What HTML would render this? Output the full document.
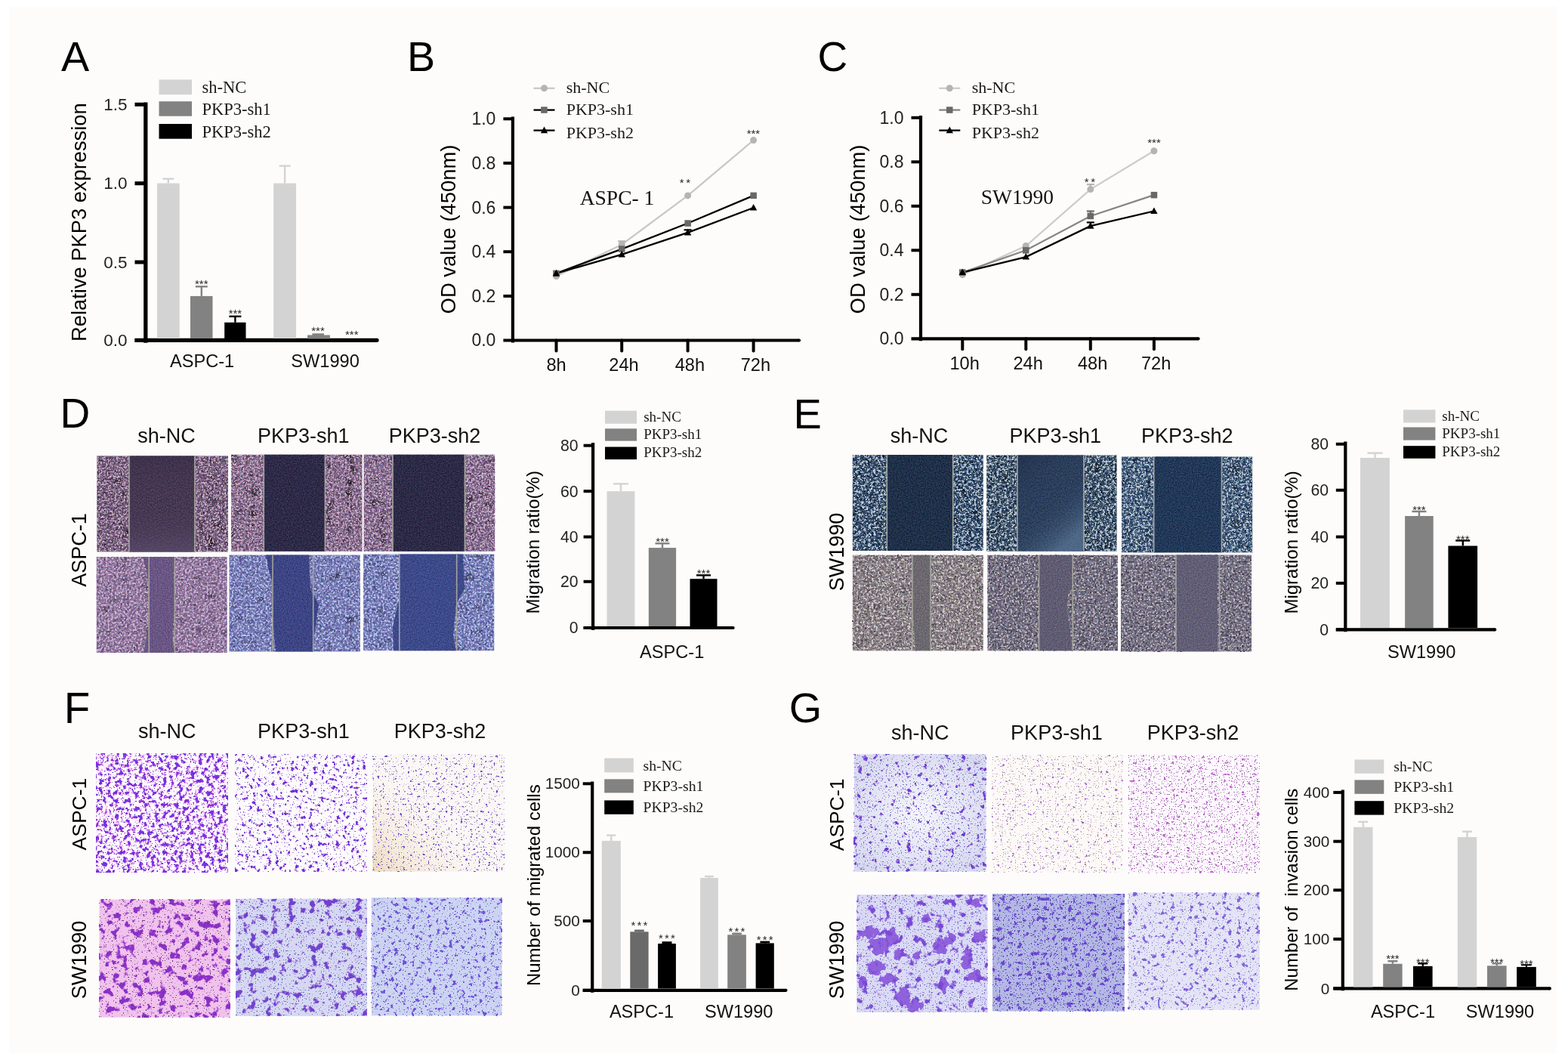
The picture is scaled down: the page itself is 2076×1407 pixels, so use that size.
<!DOCTYPE html>
<html><head><meta charset="utf-8"><title>PKP3 knockdown figure</title>
<style>html,body{margin:0;padding:0;background:#fff;overflow:hidden}svg{display:block}</style></head>
<body><svg width="2076" height="1407" viewBox="0 0 2076 1407"><defs><filter id="sp1" x="0" y="0" width="1" height="1" color-interpolation-filters="sRGB"><feTurbulence type="fractalNoise" baseFrequency="0.35" numOctaves="2" seed="13" result="n"/><feColorMatrix in="n" type="matrix" values="0.3 0 0 0.6 -0.034  0 0.3 0 0.6 -0.113  0 0 0.3 0.6 0.005  0 0 0 0 1" result="c"/><feTurbulence type="fractalNoise" baseFrequency="0.07" numOctaves="2" seed="20" result="lo"/><feColorMatrix in="lo" type="matrix" values="0 0 0 2.800 -0.120  0 0 0 2.800 -0.120  0 0 0 2.800 -0.120  0 0 0 0 1" result="lm"/><feBlend in="c" in2="lm" mode="multiply" result="c"/><feComposite in="c" in2="SourceAlpha" operator="in"/></filter><filter id="bl2" x="0" y="0" width="1" height="1" color-interpolation-filters="sRGB"><feTurbulence type="fractalNoise" baseFrequency="0.42" numOctaves="1" seed="63" result="n0"/><feColorMatrix in="n0" type="matrix" values="0 0 0 0 0.784  0 0 0 0 0.635  0 0 0 0 0.737  0 0 0 12 -6.560" result="b0"/><feTurbulence type="fractalNoise" baseFrequency="0.5" numOctaves="1" seed="70" result="n1"/><feColorMatrix in="n1" type="matrix" values="0 0 0 0 0.878  0 0 0 0 0.816  0 0 0 0 0.847  0 0 0 14 -9.074" result="b1"/><feMerge><feMergeNode in="b0"/><feMergeNode in="b1"/></feMerge></filter><filter id="sp3" x="0" y="0" width="1" height="1" color-interpolation-filters="sRGB"><feTurbulence type="fractalNoise" baseFrequency="0.6" numOctaves="2" seed="14" result="n"/><feColorMatrix in="n" type="matrix" values="0.15 0 0 0.25 0.071  0 0.15 0 0.25 0.020  0 0 0.15 0.25 0.122  0 0 0 0 1" result="c"/><feComposite in="c" in2="SourceAlpha" operator="in"/></filter><filter id="sp4" x="0" y="0" width="1" height="1" color-interpolation-filters="sRGB"><feTurbulence type="fractalNoise" baseFrequency="0.35" numOctaves="2" seed="16" result="n"/><feColorMatrix in="n" type="matrix" values="0.3 0 0 0.6 0.028  0 0.3 0 0.6 -0.066  0 0 0.3 0.6 0.068  0 0 0 0 1" result="c"/><feTurbulence type="fractalNoise" baseFrequency="0.07" numOctaves="2" seed="23" result="lo"/><feColorMatrix in="lo" type="matrix" values="0 0 0 2.800 -0.120  0 0 0 2.800 -0.120  0 0 0 2.800 -0.120  0 0 0 0 1" result="lm"/><feBlend in="c" in2="lm" mode="multiply" result="c"/><feComposite in="c" in2="SourceAlpha" operator="in"/></filter><filter id="bl5" x="0" y="0" width="1" height="1" color-interpolation-filters="sRGB"><feTurbulence type="fractalNoise" baseFrequency="0.42" numOctaves="1" seed="66" result="n0"/><feColorMatrix in="n0" type="matrix" values="0 0 0 0 0.784  0 0 0 0 0.635  0 0 0 0 0.737  0 0 0 12 -6.560" result="b0"/><feTurbulence type="fractalNoise" baseFrequency="0.5" numOctaves="1" seed="73" result="n1"/><feColorMatrix in="n1" type="matrix" values="0 0 0 0 0.878  0 0 0 0 0.816  0 0 0 0 0.847  0 0 0 14 -9.074" result="b1"/><feMerge><feMergeNode in="b0"/><feMergeNode in="b1"/></feMerge></filter><filter id="sp6" x="0" y="0" width="1" height="1" color-interpolation-filters="sRGB"><feTurbulence type="fractalNoise" baseFrequency="0.6" numOctaves="2" seed="17" result="n"/><feColorMatrix in="n" type="matrix" values="0.15 0 0 0.25 -0.020  0 0.15 0 0.25 -0.035  0 0 0.15 0.25 0.082  0 0 0 0 1" result="c"/><feComposite in="c" in2="SourceAlpha" operator="in"/></filter><filter id="sp7" x="0" y="0" width="1" height="1" color-interpolation-filters="sRGB"><feTurbulence type="fractalNoise" baseFrequency="0.35" numOctaves="2" seed="19" result="n"/><feColorMatrix in="n" type="matrix" values="0.3 0 0 0.6 0.021  0 0.3 0 0.6 -0.066  0 0 0.3 0.6 0.075  0 0 0 0 1" result="c"/><feTurbulence type="fractalNoise" baseFrequency="0.07" numOctaves="2" seed="26" result="lo"/><feColorMatrix in="lo" type="matrix" values="0 0 0 2.800 -0.120  0 0 0 2.800 -0.120  0 0 0 2.800 -0.120  0 0 0 0 1" result="lm"/><feBlend in="c" in2="lm" mode="multiply" result="c"/><feComposite in="c" in2="SourceAlpha" operator="in"/></filter><filter id="bl8" x="0" y="0" width="1" height="1" color-interpolation-filters="sRGB"><feTurbulence type="fractalNoise" baseFrequency="0.42" numOctaves="1" seed="69" result="n0"/><feColorMatrix in="n0" type="matrix" values="0 0 0 0 0.784  0 0 0 0 0.635  0 0 0 0 0.737  0 0 0 12 -6.560" result="b0"/><feTurbulence type="fractalNoise" baseFrequency="0.5" numOctaves="1" seed="76" result="n1"/><feColorMatrix in="n1" type="matrix" values="0 0 0 0 0.878  0 0 0 0 0.816  0 0 0 0 0.847  0 0 0 14 -9.074" result="b1"/><feMerge><feMergeNode in="b0"/><feMergeNode in="b1"/></feMerge></filter><filter id="sp9" x="0" y="0" width="1" height="1" color-interpolation-filters="sRGB"><feTurbulence type="fractalNoise" baseFrequency="0.6" numOctaves="2" seed="20" result="n"/><feColorMatrix in="n" type="matrix" values="0.15 0 0 0.25 -0.027  0 0.15 0 0.25 -0.035  0 0 0.15 0.25 0.075  0 0 0 0 1" result="c"/><feComposite in="c" in2="SourceAlpha" operator="in"/></filter><filter id="sp10" x="0" y="0" width="1" height="1" color-interpolation-filters="sRGB"><feTurbulence type="fractalNoise" baseFrequency="0.35" numOctaves="2" seed="22" result="n"/><feColorMatrix in="n" type="matrix" values="0.3 0 0 0.6 0.091  0 0.3 0 0.6 -0.003  0 0 0.3 0.6 0.146  0 0 0 0 1" result="c"/><feTurbulence type="fractalNoise" baseFrequency="0.07" numOctaves="2" seed="29" result="lo"/><feColorMatrix in="lo" type="matrix" values="0 0 0 1.400 0.440  0 0 0 1.400 0.440  0 0 0 1.400 0.440  0 0 0 0 1" result="lm"/><feBlend in="c" in2="lm" mode="multiply" result="c"/><feComposite in="c" in2="SourceAlpha" operator="in"/></filter><filter id="bl11" x="0" y="0" width="1" height="1" color-interpolation-filters="sRGB"><feTurbulence type="fractalNoise" baseFrequency="0.42" numOctaves="1" seed="72" result="n0"/><feColorMatrix in="n0" type="matrix" values="0 0 0 0 0.816  0 0 0 0 0.706  0 0 0 0 0.831  0 0 0 12 -6.560" result="b0"/><feMerge><feMergeNode in="b0"/></feMerge></filter><filter id="sp12" x="0" y="0" width="1" height="1" color-interpolation-filters="sRGB"><feTurbulence type="fractalNoise" baseFrequency="0.6" numOctaves="2" seed="23" result="n"/><feColorMatrix in="n" type="matrix" values="0.15 0 0 0.25 0.216  0 0.15 0 0.25 0.137  0 0 0.15 0.25 0.318  0 0 0 0 1" result="c"/><feComposite in="c" in2="SourceAlpha" operator="in"/></filter><filter id="sp13" x="0" y="0" width="1" height="1" color-interpolation-filters="sRGB"><feTurbulence type="fractalNoise" baseFrequency="0.35" numOctaves="2" seed="25" result="n"/><feColorMatrix in="n" type="matrix" values="0.3 0 0 0.6 -0.003  0 0.3 0 0.6 0.013  0 0 0.3 0.6 0.240  0 0 0 0 1" result="c"/><feTurbulence type="fractalNoise" baseFrequency="0.07" numOctaves="2" seed="32" result="lo"/><feColorMatrix in="lo" type="matrix" values="0 0 0 1.400 0.440  0 0 0 1.400 0.440  0 0 0 1.400 0.440  0 0 0 0 1" result="lm"/><feBlend in="c" in2="lm" mode="multiply" result="c"/><feComposite in="c" in2="SourceAlpha" operator="in"/></filter><filter id="bl14" x="0" y="0" width="1" height="1" color-interpolation-filters="sRGB"><feTurbulence type="fractalNoise" baseFrequency="0.42" numOctaves="1" seed="75" result="n0"/><feColorMatrix in="n0" type="matrix" values="0 0 0 0 0.737  0 0 0 0 0.769  0 0 0 0 0.925  0 0 0 12 -6.560" result="b0"/><feMerge><feMergeNode in="b0"/></feMerge></filter><filter id="sp15" x="0" y="0" width="1" height="1" color-interpolation-filters="sRGB"><feTurbulence type="fractalNoise" baseFrequency="0.6" numOctaves="2" seed="26" result="n"/><feColorMatrix in="n" type="matrix" values="0.15 0 0 0.25 0.039  0 0.15 0 0.25 0.071  0 0 0.15 0.25 0.322  0 0 0 0 1" result="c"/><feComposite in="c" in2="SourceAlpha" operator="in"/></filter><filter id="sp16" x="0" y="0" width="1" height="1" color-interpolation-filters="sRGB"><feTurbulence type="fractalNoise" baseFrequency="0.35" numOctaves="2" seed="28" result="n"/><feColorMatrix in="n" type="matrix" values="0.3 0 0 0.6 -0.011  0 0.3 0 0.6 0.013  0 0 0.3 0.6 0.240  0 0 0 0 1" result="c"/><feTurbulence type="fractalNoise" baseFrequency="0.07" numOctaves="2" seed="35" result="lo"/><feColorMatrix in="lo" type="matrix" values="0 0 0 1.400 0.440  0 0 0 1.400 0.440  0 0 0 1.400 0.440  0 0 0 0 1" result="lm"/><feBlend in="c" in2="lm" mode="multiply" result="c"/><feComposite in="c" in2="SourceAlpha" operator="in"/></filter><filter id="bl17" x="0" y="0" width="1" height="1" color-interpolation-filters="sRGB"><feTurbulence type="fractalNoise" baseFrequency="0.42" numOctaves="1" seed="78" result="n0"/><feColorMatrix in="n0" type="matrix" values="0 0 0 0 0.737  0 0 0 0 0.769  0 0 0 0 0.925  0 0 0 12 -6.560" result="b0"/><feMerge><feMergeNode in="b0"/></feMerge></filter><filter id="sp18" x="0" y="0" width="1" height="1" color-interpolation-filters="sRGB"><feTurbulence type="fractalNoise" baseFrequency="0.6" numOctaves="2" seed="29" result="n"/><feColorMatrix in="n" type="matrix" values="0.15 0 0 0.25 0.039  0 0.15 0 0.25 0.090  0 0 0.15 0.25 0.341  0 0 0 0 1" result="c"/><feComposite in="c" in2="SourceAlpha" operator="in"/></filter><filter id="sp19" x="0" y="0" width="1" height="1" color-interpolation-filters="sRGB"><feTurbulence type="fractalNoise" baseFrequency="0.35" numOctaves="2" seed="31" result="n"/><feColorMatrix in="n" type="matrix" values="0.25 0 0 0.6 -0.245  0 0.25 0 0.6 -0.158  0 0 0.25 0.6 -0.041  0 0 0 0 1" result="c"/><feTurbulence type="fractalNoise" baseFrequency="0.07" numOctaves="2" seed="38" result="lo"/><feColorMatrix in="lo" type="matrix" values="0 0 0 2.100 0.160  0 0 0 2.100 0.160  0 0 0 2.100 0.160  0 0 0 0 1" result="lm"/><feBlend in="c" in2="lm" mode="multiply" result="c"/><feComposite in="c" in2="SourceAlpha" operator="in"/></filter><filter id="bl20" x="0" y="0" width="1" height="1" color-interpolation-filters="sRGB"><feTurbulence type="fractalNoise" baseFrequency="0.3" numOctaves="2" seed="81" result="n0"/><feColorMatrix in="n0" type="matrix" values="0 0 0 0 0.659  0 0 0 0 0.737  0 0 0 0 0.800  0 0 0 10 -5.426" result="b0"/><feTurbulence type="fractalNoise" baseFrequency="0.5" numOctaves="1" seed="88" result="n1"/><feColorMatrix in="n1" type="matrix" values="0 0 0 0 0.878  0 0 0 0 0.894  0 0 0 0 0.878  0 0 0 14 -8.918" result="b1"/><feMerge><feMergeNode in="b0"/><feMergeNode in="b1"/></feMerge></filter><filter id="sp21" x="0" y="0" width="1" height="1" color-interpolation-filters="sRGB"><feTurbulence type="fractalNoise" baseFrequency="0.6" numOctaves="2" seed="32" result="n"/><feColorMatrix in="n" type="matrix" values="0.15 0 0 0.25 -0.078  0 0.15 0 0.25 -0.012  0 0 0.15 0.25 0.086  0 0 0 0 1" result="c"/><feComposite in="c" in2="SourceAlpha" operator="in"/></filter><filter id="sp22" x="0" y="0" width="1" height="1" color-interpolation-filters="sRGB"><feTurbulence type="fractalNoise" baseFrequency="0.35" numOctaves="2" seed="34" result="n"/><feColorMatrix in="n" type="matrix" values="0.25 0 0 0.6 -0.229  0 0.25 0 0.6 -0.150  0 0 0.25 0.6 -0.056  0 0 0 0 1" result="c"/><feTurbulence type="fractalNoise" baseFrequency="0.07" numOctaves="2" seed="41" result="lo"/><feColorMatrix in="lo" type="matrix" values="0 0 0 2.100 0.160  0 0 0 2.100 0.160  0 0 0 2.100 0.160  0 0 0 0 1" result="lm"/><feBlend in="c" in2="lm" mode="multiply" result="c"/><feComposite in="c" in2="SourceAlpha" operator="in"/></filter><filter id="bl23" x="0" y="0" width="1" height="1" color-interpolation-filters="sRGB"><feTurbulence type="fractalNoise" baseFrequency="0.3" numOctaves="2" seed="84" result="n0"/><feColorMatrix in="n0" type="matrix" values="0 0 0 0 0.659  0 0 0 0 0.737  0 0 0 0 0.800  0 0 0 10 -5.426" result="b0"/><feTurbulence type="fractalNoise" baseFrequency="0.5" numOctaves="1" seed="91" result="n1"/><feColorMatrix in="n1" type="matrix" values="0 0 0 0 0.878  0 0 0 0 0.894  0 0 0 0 0.878  0 0 0 14 -8.918" result="b1"/><feMerge><feMergeNode in="b0"/><feMergeNode in="b1"/></feMerge></filter><filter id="sp24" x="0" y="0" width="1" height="1" color-interpolation-filters="sRGB"><feTurbulence type="fractalNoise" baseFrequency="0.6" numOctaves="2" seed="35" result="n"/><feColorMatrix in="n" type="matrix" values="0.15 0 0 0.25 -0.027  0 0.15 0 0.25 0.047  0 0 0.15 0.25 0.161  0 0 0 0 1" result="c"/><feComposite in="c" in2="SourceAlpha" operator="in"/></filter><filter id="sp25" x="0" y="0" width="1" height="1" color-interpolation-filters="sRGB"><feTurbulence type="fractalNoise" baseFrequency="0.35" numOctaves="2" seed="37" result="n"/><feColorMatrix in="n" type="matrix" values="0.25 0 0 0.6 -0.205  0 0.25 0 0.6 -0.111  0 0 0.25 0.6 0.014  0 0 0 0 1" result="c"/><feTurbulence type="fractalNoise" baseFrequency="0.07" numOctaves="2" seed="44" result="lo"/><feColorMatrix in="lo" type="matrix" values="0 0 0 2.100 0.160  0 0 0 2.100 0.160  0 0 0 2.100 0.160  0 0 0 0 1" result="lm"/><feBlend in="c" in2="lm" mode="multiply" result="c"/><feComposite in="c" in2="SourceAlpha" operator="in"/></filter><filter id="bl26" x="0" y="0" width="1" height="1" color-interpolation-filters="sRGB"><feTurbulence type="fractalNoise" baseFrequency="0.3" numOctaves="2" seed="87" result="n0"/><feColorMatrix in="n0" type="matrix" values="0 0 0 0 0.659  0 0 0 0 0.737  0 0 0 0 0.800  0 0 0 10 -5.426" result="b0"/><feTurbulence type="fractalNoise" baseFrequency="0.5" numOctaves="1" seed="94" result="n1"/><feColorMatrix in="n1" type="matrix" values="0 0 0 0 0.878  0 0 0 0 0.894  0 0 0 0 0.878  0 0 0 14 -8.918" result="b1"/><feMerge><feMergeNode in="b0"/><feMergeNode in="b1"/></feMerge></filter><filter id="sp27" x="0" y="0" width="1" height="1" color-interpolation-filters="sRGB"><feTurbulence type="fractalNoise" baseFrequency="0.6" numOctaves="2" seed="38" result="n"/><feColorMatrix in="n" type="matrix" values="0.15 0 0 0.25 -0.067  0 0.15 0 0.25 0.020  0 0 0.15 0.25 0.145  0 0 0 0 1" result="c"/><feComposite in="c" in2="SourceAlpha" operator="in"/></filter><filter id="sp28" x="0" y="0" width="1" height="1" color-interpolation-filters="sRGB"><feTurbulence type="fractalNoise" baseFrequency="0.35" numOctaves="2" seed="40" result="n"/><feColorMatrix in="n" type="matrix" values="0.2 0 0 0.5 0.168  0 0.2 0 0.5 0.136  0 0 0.2 0.5 0.168  0 0 0 0 1" result="c"/><feTurbulence type="fractalNoise" baseFrequency="0.07" numOctaves="2" seed="47" result="lo"/><feColorMatrix in="lo" type="matrix" values="0 0 0 1.050 0.580  0 0 0 1.050 0.580  0 0 0 1.050 0.580  0 0 0 0 1" result="lm"/><feBlend in="c" in2="lm" mode="multiply" result="c"/><feComposite in="c" in2="SourceAlpha" operator="in"/></filter><filter id="bl29" x="0" y="0" width="1" height="1" color-interpolation-filters="sRGB"><feTurbulence type="fractalNoise" baseFrequency="0.35" numOctaves="2" seed="90" result="n0"/><feColorMatrix in="n0" type="matrix" values="0 0 0 0 0.831  0 0 0 0 0.800  0 0 0 0 0.769  0 0 0 10 -5.426" result="b0"/><feTurbulence type="fractalNoise" baseFrequency="0.42" numOctaves="1" seed="99" result="n1"/><feColorMatrix in="n1" type="matrix" values="0 0 0 0 0.282  0 0 0 0 0.251  0 0 0 0 0.298  0 0 0 12 -7.459" result="b1"/><feMerge><feMergeNode in="b0"/><feMergeNode in="b1"/></feMerge></filter><filter id="sp30" x="0" y="0" width="1" height="1" color-interpolation-filters="sRGB"><feTurbulence type="fractalNoise" baseFrequency="0.6" numOctaves="2" seed="41" result="n"/><feColorMatrix in="n" type="matrix" values="0.15 0 0 0.25 0.224  0 0.15 0 0.25 0.208  0 0 0.15 0.25 0.239  0 0 0 0 1" result="c"/><feComposite in="c" in2="SourceAlpha" operator="in"/></filter><filter id="sp31" x="0" y="0" width="1" height="1" color-interpolation-filters="sRGB"><feTurbulence type="fractalNoise" baseFrequency="0.35" numOctaves="2" seed="43" result="n"/><feColorMatrix in="n" type="matrix" values="0.2 0 0 0.5 0.097  0 0.2 0 0.5 0.081  0 0 0.2 0.5 0.160  0 0 0 0 1" result="c"/><feTurbulence type="fractalNoise" baseFrequency="0.07" numOctaves="2" seed="50" result="lo"/><feColorMatrix in="lo" type="matrix" values="0 0 0 1.050 0.580  0 0 0 1.050 0.580  0 0 0 1.050 0.580  0 0 0 0 1" result="lm"/><feBlend in="c" in2="lm" mode="multiply" result="c"/><feComposite in="c" in2="SourceAlpha" operator="in"/></filter><filter id="bl32" x="0" y="0" width="1" height="1" color-interpolation-filters="sRGB"><feTurbulence type="fractalNoise" baseFrequency="0.42" numOctaves="1" seed="93" result="n0"/><feColorMatrix in="n0" type="matrix" values="0 0 0 0 0.784  0 0 0 0 0.753  0 0 0 0 0.753  0 0 0 12 -6.753" result="b0"/><feTurbulence type="fractalNoise" baseFrequency="0.42" numOctaves="1" seed="102" result="n1"/><feColorMatrix in="n1" type="matrix" values="0 0 0 0 0.235  0 0 0 0 0.212  0 0 0 0 0.267  0 0 0 12 -7.359" result="b1"/><feMerge><feMergeNode in="b0"/><feMergeNode in="b1"/></feMerge></filter><filter id="sp33" x="0" y="0" width="1" height="1" color-interpolation-filters="sRGB"><feTurbulence type="fractalNoise" baseFrequency="0.6" numOctaves="2" seed="44" result="n"/><feColorMatrix in="n" type="matrix" values="0.15 0 0 0.25 0.176  0 0.15 0 0.25 0.161  0 0 0.15 0.25 0.247  0 0 0 0 1" result="c"/><feComposite in="c" in2="SourceAlpha" operator="in"/></filter><filter id="sp34" x="0" y="0" width="1" height="1" color-interpolation-filters="sRGB"><feTurbulence type="fractalNoise" baseFrequency="0.35" numOctaves="2" seed="46" result="n"/><feColorMatrix in="n" type="matrix" values="0.2 0 0 0.5 0.105  0 0.2 0 0.5 0.089  0 0 0.2 0.5 0.168  0 0 0 0 1" result="c"/><feTurbulence type="fractalNoise" baseFrequency="0.07" numOctaves="2" seed="53" result="lo"/><feColorMatrix in="lo" type="matrix" values="0 0 0 1.050 0.580  0 0 0 1.050 0.580  0 0 0 1.050 0.580  0 0 0 0 1" result="lm"/><feBlend in="c" in2="lm" mode="multiply" result="c"/><feComposite in="c" in2="SourceAlpha" operator="in"/></filter><filter id="bl35" x="0" y="0" width="1" height="1" color-interpolation-filters="sRGB"><feTurbulence type="fractalNoise" baseFrequency="0.42" numOctaves="1" seed="96" result="n0"/><feColorMatrix in="n0" type="matrix" values="0 0 0 0 0.784  0 0 0 0 0.753  0 0 0 0 0.753  0 0 0 12 -6.753" result="b0"/><feTurbulence type="fractalNoise" baseFrequency="0.42" numOctaves="1" seed="105" result="n1"/><feColorMatrix in="n1" type="matrix" values="0 0 0 0 0.235  0 0 0 0 0.212  0 0 0 0 0.267  0 0 0 12 -7.359" result="b1"/><feMerge><feMergeNode in="b0"/><feMergeNode in="b1"/></feMerge></filter><filter id="sp36" x="0" y="0" width="1" height="1" color-interpolation-filters="sRGB"><feTurbulence type="fractalNoise" baseFrequency="0.6" numOctaves="2" seed="47" result="n"/><feColorMatrix in="n" type="matrix" values="0.15 0 0 0.25 0.184  0 0.15 0 0.25 0.169  0 0 0.15 0.25 0.263  0 0 0 0 1" result="c"/><feComposite in="c" in2="SourceAlpha" operator="in"/></filter><filter id="bl37" x="0" y="0" width="1" height="1" color-interpolation-filters="sRGB"><feTurbulence type="fractalNoise" baseFrequency="0.19" numOctaves="3" seed="63" result="n0"/><feColorMatrix in="n0" type="matrix" values="0 0 0 0 0.847  0 0 0 0 0.439  0 0 0 0 0.902  0 0 0 10 -5.014" result="b0"/><feTurbulence type="fractalNoise" baseFrequency="0.19" numOctaves="3" seed="63" result="n1"/><feColorMatrix in="n1" type="matrix" values="0 0 0 0 0.455  0 0 0 0 0.204  0 0 0 0 0.878  0 0 0 12 -6.868" result="b1"/><feTurbulence type="fractalNoise" baseFrequency="0.5" numOctaves="1" seed="68" result="n2"/><feColorMatrix in="n2" type="matrix" values="0 0 0 0 0.314  0 0 0 0 0.094  0 0 0 0 0.753  0 0 0 20 -13.616" result="b2"/><feMerge><feMergeNode in="b0"/><feMergeNode in="b1"/><feMergeNode in="b2"/></feMerge></filter><filter id="bl38" x="0" y="0" width="1" height="1" color-interpolation-filters="sRGB"><feTurbulence type="fractalNoise" baseFrequency="0.2" numOctaves="3" seed="80" result="n0"/><feColorMatrix in="n0" type="matrix" values="0 0 0 0 0.753  0 0 0 0 0.439  0 0 0 0 0.878  0 0 0 12 -7.192" result="b0"/><feTurbulence type="fractalNoise" baseFrequency="0.2" numOctaves="3" seed="80" result="n1"/><feColorMatrix in="n1" type="matrix" values="0 0 0 0 0.416  0 0 0 0 0.188  0 0 0 0 0.847  0 0 0 12 -7.552" result="b1"/><feTurbulence type="fractalNoise" baseFrequency="0.6" numOctaves="1" seed="85" result="n2"/><feColorMatrix in="n2" type="matrix" values="0 0 0 0 0.439  0 0 0 0 0.314  0 0 0 0 0.753  0 0 0 20 -13.450" result="b2"/><feMerge><feMergeNode in="b0"/><feMergeNode in="b1"/><feMergeNode in="b2"/></feMerge></filter><filter id="bl39" x="0" y="0" width="1" height="1" color-interpolation-filters="sRGB"><feTurbulence type="fractalNoise" baseFrequency="0.3" numOctaves="2" seed="97" result="n0"/><feColorMatrix in="n0" type="matrix" values="0 0 0 0 0.439  0 0 0 0 0.251  0 0 0 0 0.784  0 0 0 14 -9.290" result="b0"/><feTurbulence type="fractalNoise" baseFrequency="0.7" numOctaves="1" seed="102" result="n1"/><feColorMatrix in="n1" type="matrix" values="0 0 0 0 0.502  0 0 0 0 0.439  0 0 0 0 0.690  0 0 0 20 -13.616" result="b1"/><feMerge><feMergeNode in="b0"/><feMergeNode in="b1"/></feMerge></filter><filter id="bl40" x="0" y="0" width="1" height="1" color-interpolation-filters="sRGB"><feTurbulence type="fractalNoise" baseFrequency="0.1" numOctaves="3" seed="114" result="n0"/><feColorMatrix in="n0" type="matrix" values="0 0 0 0 0.722  0 0 0 0 0.376  0 0 0 0 0.847  0 0 0 10 -5.426" result="b0"/><feTurbulence type="fractalNoise" baseFrequency="0.1" numOctaves="3" seed="114" result="n1"/><feColorMatrix in="n1" type="matrix" values="0 0 0 0 0.541  0 0 0 0 0.188  0 0 0 0 0.784  0 0 0 12 -7.051" result="b1"/><feTurbulence type="fractalNoise" baseFrequency="0.6" numOctaves="1" seed="119" result="n2"/><feColorMatrix in="n2" type="matrix" values="0 0 0 0 0.376  0 0 0 0 0.188  0 0 0 0 0.502  0 0 0 20 -13.176" result="b2"/><feMerge><feMergeNode in="b0"/><feMergeNode in="b1"/><feMergeNode in="b2"/></feMerge></filter><filter id="bl41" x="0" y="0" width="1" height="1" color-interpolation-filters="sRGB"><feTurbulence type="fractalNoise" baseFrequency="0.1" numOctaves="3" seed="131" result="n0"/><feColorMatrix in="n0" type="matrix" values="0 0 0 0 0.596  0 0 0 0 0.408  0 0 0 0 0.847  0 0 0 10 -5.792" result="b0"/><feTurbulence type="fractalNoise" baseFrequency="0.1" numOctaves="3" seed="131" result="n1"/><feColorMatrix in="n1" type="matrix" values="0 0 0 0 0.439  0 0 0 0 0.251  0 0 0 0 0.816  0 0 0 12 -7.448" result="b1"/><feTurbulence type="fractalNoise" baseFrequency="0.6" numOctaves="1" seed="136" result="n2"/><feColorMatrix in="n2" type="matrix" values="0 0 0 0 0.376  0 0 0 0 0.376  0 0 0 0 0.722  0 0 0 20 -12.954" result="b2"/><feMerge><feMergeNode in="b0"/><feMergeNode in="b1"/><feMergeNode in="b2"/></feMerge></filter><filter id="bl42" x="0" y="0" width="1" height="1" color-interpolation-filters="sRGB"><feTurbulence type="fractalNoise" baseFrequency="0.18" numOctaves="3" seed="148" result="n0"/><feColorMatrix in="n0" type="matrix" values="0 0 0 0 0.439  0 0 0 0 0.314  0 0 0 0 0.847  0 0 0 12 -7.499" result="b0"/><feTurbulence type="fractalNoise" baseFrequency="0.6" numOctaves="1" seed="153" result="n1"/><feColorMatrix in="n1" type="matrix" values="0 0 0 0 0.353  0 0 0 0 0.298  0 0 0 0 0.753  0 0 0 20 -13.176" result="b1"/><feMerge><feMergeNode in="b0"/><feMergeNode in="b1"/></feMerge></filter><filter id="bl43" x="0" y="0" width="1" height="1" color-interpolation-filters="sRGB"><feTurbulence type="fractalNoise" baseFrequency="0.14" numOctaves="3" seed="165" result="n0"/><feColorMatrix in="n0" type="matrix" values="0 0 0 0 0.627  0 0 0 0 0.439  0 0 0 0 0.847  0 0 0 12 -7.671" result="b0"/><feTurbulence type="fractalNoise" baseFrequency="0.14" numOctaves="3" seed="165" result="n1"/><feColorMatrix in="n1" type="matrix" values="0 0 0 0 0.416  0 0 0 0 0.227  0 0 0 0 0.816  0 0 0 12 -8.087" result="b1"/><feTurbulence type="fractalNoise" baseFrequency="0.6" numOctaves="1" seed="170" result="n2"/><feColorMatrix in="n2" type="matrix" values="0 0 0 0 0.478  0 0 0 0 0.439  0 0 0 0 0.784  0 0 0 20 -12.765" result="b2"/><feMerge><feMergeNode in="b0"/><feMergeNode in="b1"/><feMergeNode in="b2"/></feMerge></filter><filter id="bl44" x="0" y="0" width="1" height="1" color-interpolation-filters="sRGB"><feTurbulence type="fractalNoise" baseFrequency="0.25" numOctaves="2" seed="182" result="n0"/><feColorMatrix in="n0" type="matrix" values="0 0 0 0 0.627  0 0 0 0 0.376  0 0 0 0 0.816  0 0 0 14 -9.663" result="b0"/><feTurbulence type="fractalNoise" baseFrequency="0.7" numOctaves="1" seed="187" result="n1"/><feColorMatrix in="n1" type="matrix" values="0 0 0 0 0.659  0 0 0 0 0.565  0 0 0 0 0.596  0 0 0 20 -13.176" result="b1"/><feMerge><feMergeNode in="b0"/><feMergeNode in="b1"/></feMerge></filter><filter id="bl45" x="0" y="0" width="1" height="1" color-interpolation-filters="sRGB"><feTurbulence type="fractalNoise" baseFrequency="0.25" numOctaves="2" seed="199" result="n0"/><feColorMatrix in="n0" type="matrix" values="0 0 0 0 0.753  0 0 0 0 0.376  0 0 0 0 0.816  0 0 0 14 -9.290" result="b0"/><feTurbulence type="fractalNoise" baseFrequency="0.7" numOctaves="1" seed="204" result="n1"/><feColorMatrix in="n1" type="matrix" values="0 0 0 0 0.604  0 0 0 0 0.416  0 0 0 0 0.659  0 0 0 20 -12.765" result="b1"/><feMerge><feMergeNode in="b0"/><feMergeNode in="b1"/></feMerge></filter><filter id="bl46" x="0" y="0" width="1" height="1" color-interpolation-filters="sRGB"><feTurbulence type="fractalNoise" baseFrequency="0.1" numOctaves="3" seed="216" result="n0"/><feColorMatrix in="n0" type="matrix" values="0 0 0 0 0.659  0 0 0 0 0.533  0 0 0 0 0.894  0 0 0 10 -5.849" result="b0"/><feTurbulence type="fractalNoise" baseFrequency="0.1" numOctaves="3" seed="216" result="n1"/><feColorMatrix in="n1" type="matrix" values="0 0 0 0 0.471  0 0 0 0 0.282  0 0 0 0 0.831  0 0 0 12 -7.552" result="b1"/><feTurbulence type="fractalNoise" baseFrequency="0.6" numOctaves="1" seed="221" result="n2"/><feColorMatrix in="n2" type="matrix" values="0 0 0 0 0.478  0 0 0 0 0.439  0 0 0 0 0.816  0 0 0 20 -12.599" result="b2"/><feMerge><feMergeNode in="b0"/><feMergeNode in="b1"/><feMergeNode in="b2"/></feMerge></filter><filter id="clw" x="-20%" y="-20%" width="140%" height="140%"><feTurbulence type="fractalNoise" baseFrequency="0.12" numOctaves="2" seed="41" result="t"/><feDisplacementMap in="SourceGraphic" in2="t" scale="14" xChannelSelector="R" yChannelSelector="G" result="d"/><feGaussianBlur in="d" stdDeviation="0.6"/></filter><filter id="bl47" x="0" y="0" width="1" height="1" color-interpolation-filters="sRGB"><feTurbulence type="fractalNoise" baseFrequency="0.15" numOctaves="3" seed="233" result="n0"/><feColorMatrix in="n0" type="matrix" values="0 0 0 0 0.416  0 0 0 0 0.282  0 0 0 0 0.816  0 0 0 12 -7.448" result="b0"/><feTurbulence type="fractalNoise" baseFrequency="0.6" numOctaves="1" seed="238" result="n1"/><feColorMatrix in="n1" type="matrix" values="0 0 0 0 0.290  0 0 0 0 0.204  0 0 0 0 0.690  0 0 0 20 -12.765" result="b1"/><feMerge><feMergeNode in="b0"/><feMergeNode in="b1"/></feMerge></filter><filter id="bl48" x="0" y="0" width="1" height="1" color-interpolation-filters="sRGB"><feTurbulence type="fractalNoise" baseFrequency="0.16" numOctaves="3" seed="250" result="n0"/><feColorMatrix in="n0" type="matrix" values="0 0 0 0 0.502  0 0 0 0 0.376  0 0 0 0 0.847  0 0 0 12 -7.552" result="b0"/><feTurbulence type="fractalNoise" baseFrequency="0.6" numOctaves="1" seed="255" result="n1"/><feColorMatrix in="n1" type="matrix" values="0 0 0 0 0.541  0 0 0 0 0.518  0 0 0 0 0.816  0 0 0 20 -12.954" result="b1"/><feMerge><feMergeNode in="b0"/><feMergeNode in="b1"/></feMerge></filter></defs><rect x="0.0" y="0.0" width="2076.0" height="1407.0" fill="#ffffff" />
<rect x="12.0" y="9.0" width="2049.0" height="1385.0" fill="#fdfcfb" />
<text x="81.0" y="93.9" font-family="'Liberation Sans', Arial, sans-serif" font-size="55.7" text-anchor="start" fill="#000" >A</text>
<text x="539.0" y="94.0" font-family="'Liberation Sans', Arial, sans-serif" font-size="55.5" text-anchor="start" fill="#000" >B</text>
<text x="1082.4" y="94.3" font-family="'Liberation Sans', Arial, sans-serif" font-size="55" text-anchor="start" fill="#000" >C</text>
<text x="79.5" y="566.4" font-family="'Liberation Sans', Arial, sans-serif" font-size="55" text-anchor="start" fill="#000" >D</text>
<text x="1050.4" y="567.2" font-family="'Liberation Sans', Arial, sans-serif" font-size="56" text-anchor="start" fill="#000" >E</text>
<text x="84.7" y="957.0" font-family="'Liberation Sans', Arial, sans-serif" font-size="56.5" text-anchor="start" fill="#000" >F</text>
<text x="1044.8" y="956.4" font-family="'Liberation Sans', Arial, sans-serif" font-size="55.7" text-anchor="start" fill="#000" >G</text>
<line x1="192.8" y1="135.5" x2="192.8" y2="453.8" stroke="#000" stroke-width="5.3" stroke-linecap="butt"/>
<line x1="178.5" y1="450.3" x2="499.0" y2="450.3" stroke="#000" stroke-width="5.3" stroke-linecap="butt"/>
<circle cx="499.0" cy="450.3" r="2.6" fill="#000"/>
<line x1="178.5" y1="138.3" x2="192.8" y2="138.3" stroke="#000" stroke-width="5.034999999999999" stroke-linecap="butt"/>
<text x="168.5" y="146.0" font-family="'Liberation Sans', Arial, sans-serif" font-size="22.5" text-anchor="end" fill="#222" >1.5</text>
<line x1="178.5" y1="242.7" x2="192.8" y2="242.7" stroke="#000" stroke-width="5.034999999999999" stroke-linecap="butt"/>
<text x="168.5" y="250.4" font-family="'Liberation Sans', Arial, sans-serif" font-size="22.5" text-anchor="end" fill="#222" >1.0</text>
<line x1="178.5" y1="347.0" x2="192.8" y2="347.0" stroke="#000" stroke-width="5.034999999999999" stroke-linecap="butt"/>
<text x="168.5" y="354.7" font-family="'Liberation Sans', Arial, sans-serif" font-size="22.5" text-anchor="end" fill="#222" >0.5</text>
<line x1="178.5" y1="450.5" x2="192.8" y2="450.5" stroke="#000" stroke-width="5.034999999999999" stroke-linecap="butt"/>
<text x="168.5" y="458.2" font-family="'Liberation Sans', Arial, sans-serif" font-size="22.5" text-anchor="end" fill="#222" >0.0</text>
<rect x="208.0" y="242.6" width="29.7" height="205.4" fill="#d3d3d3" />
<line x1="222.8" y1="242.6" x2="222.8" y2="236.7" stroke="#d3d3d3" stroke-width="2.4" stroke-linecap="butt"/>
<line x1="215.3" y1="236.7" x2="230.3" y2="236.7" stroke="#d3d3d3" stroke-width="2.4" stroke-linecap="butt"/>
<rect x="252.0" y="391.9" width="29.5" height="56.1" fill="#828282" />
<line x1="266.8" y1="391.9" x2="266.8" y2="379.3" stroke="#828282" stroke-width="2.4" stroke-linecap="butt"/>
<line x1="258.8" y1="379.3" x2="274.8" y2="379.3" stroke="#828282" stroke-width="2.4" stroke-linecap="butt"/>
<text x="266.8" y="380.5" font-family="'Liberation Sans', Arial, sans-serif" font-size="15" text-anchor="middle" fill="#1a1a1a" >***</text>
<rect x="297.2" y="426.8" width="28.3" height="21.2" fill="#000000" />
<line x1="311.4" y1="426.8" x2="311.4" y2="418.8" stroke="#000000" stroke-width="2.4" stroke-linecap="butt"/>
<line x1="303.4" y1="418.8" x2="319.4" y2="418.8" stroke="#000000" stroke-width="2.4" stroke-linecap="butt"/>
<text x="311.4" y="419.7" font-family="'Liberation Sans', Arial, sans-serif" font-size="15" text-anchor="middle" fill="#1a1a1a" >***</text>
<rect x="362.2" y="242.6" width="29.8" height="205.4" fill="#d3d3d3" />
<line x1="377.1" y1="242.6" x2="377.1" y2="219.6" stroke="#d3d3d3" stroke-width="2.4" stroke-linecap="butt"/>
<line x1="369.6" y1="219.6" x2="384.6" y2="219.6" stroke="#d3d3d3" stroke-width="2.4" stroke-linecap="butt"/>
<rect x="407.1" y="443.5" width="29.8" height="5.0" fill="#828282" />
<rect x="413.4" y="441.3" width="15.6" height="3.0" fill="#828282" />
<text x="421.0" y="443.2" font-family="'Liberation Sans', Arial, sans-serif" font-size="15" text-anchor="middle" fill="#1a1a1a" >***</text>
<text x="465.8" y="448.0" font-family="'Liberation Sans', Arial, sans-serif" font-size="15" text-anchor="middle" fill="#1a1a1a" >***</text>
<rect x="210.5" y="105.4" width="43.5" height="19.8" fill="#d3d3d3" />
<text x="267.6" y="123.4" font-family="'Liberation Serif', 'Times New Roman', serif" font-size="22.5" text-anchor="start" fill="#1a1a1a" >sh-NC</text>
<rect x="210.5" y="134.2" width="43.5" height="19.5" fill="#828282" />
<text x="267.6" y="151.9" font-family="'Liberation Serif', 'Times New Roman', serif" font-size="22.5" text-anchor="start" fill="#1a1a1a" >PKP3-sh1</text>
<rect x="210.5" y="164.0" width="43.5" height="19.7" fill="#000000" />
<text x="267.6" y="181.9" font-family="'Liberation Serif', 'Times New Roman', serif" font-size="22.5" text-anchor="start" fill="#1a1a1a" >PKP3-sh2</text>
<text x="267.6" y="485.6" font-family="'Liberation Sans', Arial, sans-serif" font-size="23.6" text-anchor="middle" fill="#111" >ASPC-1</text>
<text x="430.6" y="485.6" font-family="'Liberation Sans', Arial, sans-serif" font-size="23.6" text-anchor="middle" fill="#111" >SW1990</text>
<text transform="translate(113.8,294.1) rotate(-90)" font-family="'Liberation Sans', Arial, sans-serif" font-size="27.3" text-anchor="middle" fill="#000">Relative PKP3 expression</text>
<line x1="678.9" y1="154.6" x2="678.9" y2="453.4" stroke="#000" stroke-width="4.2" stroke-linecap="butt"/>
<line x1="666.4" y1="450.5" x2="1058.0" y2="450.5" stroke="#000" stroke-width="4.2" stroke-linecap="butt"/>
<circle cx="1058.0" cy="450.5" r="2.1" fill="#000"/>
<text x="656.4" y="458.4" font-family="'Liberation Sans', Arial, sans-serif" font-size="23" text-anchor="end" fill="#222" >0.0</text>
<line x1="666.4" y1="391.9" x2="678.9" y2="391.9" stroke="#000" stroke-width="3.9899999999999998" stroke-linecap="butt"/>
<text x="656.4" y="399.8" font-family="'Liberation Sans', Arial, sans-serif" font-size="23" text-anchor="end" fill="#222" >0.2</text>
<line x1="666.4" y1="333.2" x2="678.9" y2="333.2" stroke="#000" stroke-width="3.9899999999999998" stroke-linecap="butt"/>
<text x="656.4" y="341.1" font-family="'Liberation Sans', Arial, sans-serif" font-size="23" text-anchor="end" fill="#222" >0.4</text>
<line x1="666.4" y1="274.6" x2="678.9" y2="274.6" stroke="#000" stroke-width="3.9899999999999998" stroke-linecap="butt"/>
<text x="656.4" y="282.5" font-family="'Liberation Sans', Arial, sans-serif" font-size="23" text-anchor="end" fill="#222" >0.6</text>
<line x1="666.4" y1="215.9" x2="678.9" y2="215.9" stroke="#000" stroke-width="3.9899999999999998" stroke-linecap="butt"/>
<text x="656.4" y="223.9" font-family="'Liberation Sans', Arial, sans-serif" font-size="23" text-anchor="end" fill="#222" >0.8</text>
<line x1="666.4" y1="157.3" x2="678.9" y2="157.3" stroke="#000" stroke-width="3.9899999999999998" stroke-linecap="butt"/>
<text x="656.4" y="165.2" font-family="'Liberation Sans', Arial, sans-serif" font-size="23" text-anchor="end" fill="#222" >1.0</text>
<line x1="736.5" y1="450.5" x2="736.5" y2="464.5" stroke="#000" stroke-width="3.9899999999999998" stroke-linecap="round"/>
<text x="736.5" y="490.8" font-family="'Liberation Sans', Arial, sans-serif" font-size="23.6" text-anchor="middle" fill="#111" >8h</text>
<line x1="823.2" y1="450.5" x2="823.2" y2="464.5" stroke="#000" stroke-width="3.9899999999999998" stroke-linecap="round"/>
<text x="826.0" y="490.8" font-family="'Liberation Sans', Arial, sans-serif" font-size="23.6" text-anchor="middle" fill="#111" >24h</text>
<line x1="910.6" y1="450.5" x2="910.6" y2="464.5" stroke="#000" stroke-width="3.9899999999999998" stroke-linecap="round"/>
<text x="913.4" y="490.8" font-family="'Liberation Sans', Arial, sans-serif" font-size="23.6" text-anchor="middle" fill="#111" >48h</text>
<line x1="997.6" y1="450.5" x2="997.6" y2="464.5" stroke="#000" stroke-width="3.9899999999999998" stroke-linecap="round"/>
<text x="1000.4" y="490.8" font-family="'Liberation Sans', Arial, sans-serif" font-size="23.6" text-anchor="middle" fill="#111" >72h</text>
<polyline points="736.5,365.6 823.2,323.7 910.6,258.9 997.6,185.6" fill="none" stroke="#c8c8c8" stroke-width="2.3"/>
<polyline points="736.5,361.8 823.2,329.6 910.6,295.5 997.6,258.9" fill="none" stroke="#000" stroke-width="2.3"/>
<polyline points="736.5,361.8 823.2,336.9 910.6,307.9 997.6,275.0" fill="none" stroke="#000" stroke-width="2.3"/>
<line x1="823.2" y1="323.7" x2="823.2" y2="319.3" stroke="#b4b4b4" stroke-width="2" stroke-linecap="butt"/>
<line x1="818.2" y1="319.3" x2="828.2" y2="319.3" stroke="#b4b4b4" stroke-width="2.2" stroke-linecap="butt"/>
<line x1="910.6" y1="307.9" x2="910.6" y2="304.3" stroke="#000000" stroke-width="2" stroke-linecap="butt"/>
<line x1="905.6" y1="304.3" x2="915.6" y2="304.3" stroke="#000000" stroke-width="2.2" stroke-linecap="butt"/>
<circle cx="736.5" cy="365.6" r="4.5" fill="#b4b4b4"/>
<circle cx="823.2" cy="323.7" r="4.5" fill="#b4b4b4"/>
<circle cx="910.6" cy="258.9" r="4.5" fill="#b4b4b4"/>
<circle cx="997.6" cy="185.6" r="4.5" fill="#b4b4b4"/>
<rect x="732.2" y="357.6" width="8.5" height="8.5" fill="#686868" />
<rect x="819.0" y="325.3" width="8.5" height="8.5" fill="#686868" />
<rect x="906.4" y="291.3" width="8.5" height="8.5" fill="#686868" />
<rect x="993.4" y="254.6" width="8.5" height="8.5" fill="#686868" />
<polygon points="736.5,356.7 731.8,365.4 741.2,365.4" fill="#000000"/>
<polygon points="823.2,331.8 818.5,340.5 827.9,340.5" fill="#000000"/>
<polygon points="910.6,302.8 905.9,311.4 915.3,311.4" fill="#000000"/>
<polygon points="997.6,269.9 992.9,278.6 1002.3,278.6" fill="#000000"/>
<line x1="706.5" y1="116.8" x2="734.5" y2="116.8" stroke="#c8c8c8" stroke-width="2.3" stroke-linecap="butt"/>
<circle cx="720.5" cy="116.8" r="4.5" fill="#b4b4b4"/>
<text x="749.7" y="123.1" font-family="'Liberation Serif', 'Times New Roman', serif" font-size="22" text-anchor="start" fill="#1a1a1a" >sh-NC</text>
<line x1="706.5" y1="145.6" x2="734.5" y2="145.6" stroke="#000" stroke-width="2.3" stroke-linecap="butt"/>
<rect x="716.2" y="141.3" width="8.5" height="8.5" fill="#686868" />
<text x="749.7" y="152.4" font-family="'Liberation Serif', 'Times New Roman', serif" font-size="22" text-anchor="start" fill="#1a1a1a" >PKP3-sh1</text>
<line x1="706.5" y1="172.6" x2="734.5" y2="172.6" stroke="#000" stroke-width="2.3" stroke-linecap="butt"/>
<polygon points="720.5,167.5 715.8,176.2 725.2,176.2" fill="#000000"/>
<text x="749.7" y="182.5" font-family="'Liberation Serif', 'Times New Roman', serif" font-size="22" text-anchor="start" fill="#1a1a1a" >PKP3-sh2</text>
<text x="767.7" y="270.7" font-family="'Liberation Serif', 'Times New Roman', serif" font-size="27.5" text-anchor="start" fill="#111" >ASPC- 1</text>
<text x="908.2" y="247.1" font-family="'Liberation Sans', Arial, sans-serif" font-size="15" text-anchor="middle" fill="#1a1a1a" letter-spacing="2.5">**</text>
<text x="997.4" y="182.3" font-family="'Liberation Sans', Arial, sans-serif" font-size="15" text-anchor="middle" fill="#1a1a1a" >***</text>
<text transform="translate(602.6,303.5) rotate(-90)" font-family="'Liberation Sans', Arial, sans-serif" font-size="27.4" text-anchor="middle" fill="#000">OD value (450nm)</text>
<line x1="1219.0" y1="153.0" x2="1219.0" y2="451.2" stroke="#000" stroke-width="4.2" stroke-linecap="butt"/>
<line x1="1206.5" y1="448.3" x2="1586.5" y2="448.3" stroke="#000" stroke-width="4.2" stroke-linecap="butt"/>
<circle cx="1586.5" cy="448.3" r="2.1" fill="#000"/>
<text x="1196.5" y="456.2" font-family="'Liberation Sans', Arial, sans-serif" font-size="23" text-anchor="end" fill="#222" >0.0</text>
<line x1="1206.5" y1="389.8" x2="1219.0" y2="389.8" stroke="#000" stroke-width="3.9899999999999998" stroke-linecap="butt"/>
<text x="1196.5" y="397.7" font-family="'Liberation Sans', Arial, sans-serif" font-size="23" text-anchor="end" fill="#222" >0.2</text>
<line x1="1206.5" y1="331.3" x2="1219.0" y2="331.3" stroke="#000" stroke-width="3.9899999999999998" stroke-linecap="butt"/>
<text x="1196.5" y="339.2" font-family="'Liberation Sans', Arial, sans-serif" font-size="23" text-anchor="end" fill="#222" >0.4</text>
<line x1="1206.5" y1="272.8" x2="1219.0" y2="272.8" stroke="#000" stroke-width="3.9899999999999998" stroke-linecap="butt"/>
<text x="1196.5" y="280.7" font-family="'Liberation Sans', Arial, sans-serif" font-size="23" text-anchor="end" fill="#222" >0.6</text>
<line x1="1206.5" y1="214.3" x2="1219.0" y2="214.3" stroke="#000" stroke-width="3.9899999999999998" stroke-linecap="butt"/>
<text x="1196.5" y="222.2" font-family="'Liberation Sans', Arial, sans-serif" font-size="23" text-anchor="end" fill="#222" >0.8</text>
<line x1="1206.5" y1="155.8" x2="1219.0" y2="155.8" stroke="#000" stroke-width="3.9899999999999998" stroke-linecap="butt"/>
<text x="1196.5" y="163.7" font-family="'Liberation Sans', Arial, sans-serif" font-size="23" text-anchor="end" fill="#222" >1.0</text>
<line x1="1274.3" y1="448.3" x2="1274.3" y2="462.3" stroke="#000" stroke-width="3.9899999999999998" stroke-linecap="round"/>
<text x="1277.1" y="488.6" font-family="'Liberation Sans', Arial, sans-serif" font-size="23.6" text-anchor="middle" fill="#111" >10h</text>
<line x1="1358.3" y1="448.3" x2="1358.3" y2="462.3" stroke="#000" stroke-width="3.9899999999999998" stroke-linecap="round"/>
<text x="1361.1" y="488.6" font-family="'Liberation Sans', Arial, sans-serif" font-size="23.6" text-anchor="middle" fill="#111" >24h</text>
<line x1="1443.8" y1="448.3" x2="1443.8" y2="462.3" stroke="#000" stroke-width="3.9899999999999998" stroke-linecap="round"/>
<text x="1446.6" y="488.6" font-family="'Liberation Sans', Arial, sans-serif" font-size="23.6" text-anchor="middle" fill="#111" >48h</text>
<line x1="1527.9" y1="448.3" x2="1527.9" y2="462.3" stroke="#000" stroke-width="3.9899999999999998" stroke-linecap="round"/>
<text x="1530.7" y="488.6" font-family="'Liberation Sans', Arial, sans-serif" font-size="23.6" text-anchor="middle" fill="#111" >72h</text>
<polyline points="1274.3,363.5 1358.3,325.5 1443.8,250.6 1527.9,199.7" fill="none" stroke="#cccccc" stroke-width="2.3"/>
<polyline points="1274.3,360.6 1358.3,331.3 1443.8,286.0 1527.9,258.2" fill="none" stroke="#868686" stroke-width="2.3"/>
<polyline points="1274.3,360.6 1358.3,340.1 1443.8,299.1 1527.9,279.5" fill="none" stroke="#000" stroke-width="2.3"/>
<line x1="1443.8" y1="250.6" x2="1443.8" y2="244.1" stroke="#b4b4b4" stroke-width="2" stroke-linecap="butt"/>
<line x1="1438.8" y1="244.1" x2="1448.8" y2="244.1" stroke="#b4b4b4" stroke-width="2.2" stroke-linecap="butt"/>
<line x1="1443.8" y1="286.0" x2="1443.8" y2="279.5" stroke="#686868" stroke-width="2" stroke-linecap="butt"/>
<line x1="1438.8" y1="279.5" x2="1448.8" y2="279.5" stroke="#686868" stroke-width="2.2" stroke-linecap="butt"/>
<line x1="1443.8" y1="299.1" x2="1443.8" y2="294.4" stroke="#000000" stroke-width="2" stroke-linecap="butt"/>
<line x1="1438.8" y1="294.4" x2="1448.8" y2="294.4" stroke="#000000" stroke-width="2.2" stroke-linecap="butt"/>
<circle cx="1274.3" cy="363.5" r="4.5" fill="#b4b4b4"/>
<circle cx="1358.3" cy="325.5" r="4.5" fill="#b4b4b4"/>
<circle cx="1443.8" cy="250.6" r="4.5" fill="#b4b4b4"/>
<circle cx="1527.9" cy="199.7" r="4.5" fill="#b4b4b4"/>
<rect x="1270.0" y="356.3" width="8.5" height="8.5" fill="#686868" />
<rect x="1354.0" y="327.1" width="8.5" height="8.5" fill="#686868" />
<rect x="1439.5" y="281.7" width="8.5" height="8.5" fill="#686868" />
<rect x="1523.7" y="253.9" width="8.5" height="8.5" fill="#686868" />
<polygon points="1274.3,355.4 1269.6,364.1 1279.0,364.1" fill="#000000"/>
<polygon points="1358.3,335.0 1353.6,343.6 1363.0,343.6" fill="#000000"/>
<polygon points="1443.8,294.0 1439.1,302.7 1448.5,302.7" fill="#000000"/>
<polygon points="1527.9,274.4 1523.2,283.1 1532.6,283.1" fill="#000000"/>
<line x1="1243.3" y1="116.8" x2="1271.3" y2="116.8" stroke="#cccccc" stroke-width="2.3" stroke-linecap="butt"/>
<circle cx="1257.3" cy="116.8" r="4.5" fill="#b4b4b4"/>
<text x="1286.7" y="123.1" font-family="'Liberation Serif', 'Times New Roman', serif" font-size="22" text-anchor="start" fill="#1a1a1a" >sh-NC</text>
<line x1="1243.3" y1="145.6" x2="1271.3" y2="145.6" stroke="#868686" stroke-width="2.3" stroke-linecap="butt"/>
<rect x="1253.0" y="141.3" width="8.5" height="8.5" fill="#686868" />
<text x="1286.7" y="152.4" font-family="'Liberation Serif', 'Times New Roman', serif" font-size="22" text-anchor="start" fill="#1a1a1a" >PKP3-sh1</text>
<line x1="1243.3" y1="172.6" x2="1271.3" y2="172.6" stroke="#000" stroke-width="2.3" stroke-linecap="butt"/>
<polygon points="1257.3,167.5 1252.6,176.2 1262.0,176.2" fill="#000000"/>
<text x="1286.7" y="182.5" font-family="'Liberation Serif', 'Times New Roman', serif" font-size="22" text-anchor="start" fill="#1a1a1a" >PKP3-sh2</text>
<text x="1298.8" y="269.7" font-family="'Liberation Serif', 'Times New Roman', serif" font-size="27.5" text-anchor="start" fill="#111" >SW1990</text>
<text x="1444.2" y="245.9" font-family="'Liberation Sans', Arial, sans-serif" font-size="15" text-anchor="middle" fill="#1a1a1a" letter-spacing="2.5">**</text>
<text x="1528.0" y="194.2" font-family="'Liberation Sans', Arial, sans-serif" font-size="15" text-anchor="middle" fill="#1a1a1a" >***</text>
<text transform="translate(1145.3,303.5) rotate(-90)" font-family="'Liberation Sans', Arial, sans-serif" font-size="27.4" text-anchor="middle" fill="#000">OD value (450nm)</text>
<line x1="785.1" y1="586.0" x2="785.1" y2="833.9" stroke="#000" stroke-width="4.2" stroke-linecap="butt"/>
<line x1="772.6" y1="831.0" x2="970.6" y2="831.0" stroke="#000" stroke-width="4.2" stroke-linecap="butt"/>
<circle cx="970.6" cy="831.0" r="2.1" fill="#000"/>
<line x1="772.6" y1="589.7" x2="785.1" y2="589.7" stroke="#000" stroke-width="3.9899999999999998" stroke-linecap="butt"/>
<text x="765.5" y="597.0" font-family="'Liberation Sans', Arial, sans-serif" font-size="21.2" text-anchor="end" fill="#222" >80</text>
<line x1="772.6" y1="650.2" x2="785.1" y2="650.2" stroke="#000" stroke-width="3.9899999999999998" stroke-linecap="butt"/>
<text x="765.5" y="657.5" font-family="'Liberation Sans', Arial, sans-serif" font-size="21.2" text-anchor="end" fill="#222" >60</text>
<line x1="772.6" y1="710.6" x2="785.1" y2="710.6" stroke="#000" stroke-width="3.9899999999999998" stroke-linecap="butt"/>
<text x="765.5" y="717.9" font-family="'Liberation Sans', Arial, sans-serif" font-size="21.2" text-anchor="end" fill="#222" >40</text>
<line x1="772.6" y1="769.8" x2="785.1" y2="769.8" stroke="#000" stroke-width="3.9899999999999998" stroke-linecap="butt"/>
<text x="765.5" y="777.1" font-family="'Liberation Sans', Arial, sans-serif" font-size="21.2" text-anchor="end" fill="#222" >20</text>
<line x1="772.6" y1="831.0" x2="785.1" y2="831.0" stroke="#000" stroke-width="3.9899999999999998" stroke-linecap="butt"/>
<text x="765.5" y="838.3" font-family="'Liberation Sans', Arial, sans-serif" font-size="21.2" text-anchor="end" fill="#222" >0</text>
<rect x="803.6" y="650.2" width="36.8" height="178.8" fill="#d3d3d3" />
<line x1="822.0" y1="650.2" x2="822.0" y2="640.4" stroke="#d3d3d3" stroke-width="2.4" stroke-linecap="butt"/>
<line x1="812.0" y1="640.4" x2="832.0" y2="640.4" stroke="#d3d3d3" stroke-width="2.4" stroke-linecap="butt"/>
<rect x="858.8" y="725.1" width="36.3" height="103.9" fill="#828282" />
<line x1="877.0" y1="725.1" x2="877.0" y2="719.3" stroke="#828282" stroke-width="2.4" stroke-linecap="butt"/>
<line x1="867.5" y1="719.3" x2="886.5" y2="719.3" stroke="#828282" stroke-width="2.4" stroke-linecap="butt"/>
<text x="877.0" y="721.9" font-family="'Liberation Sans', Arial, sans-serif" font-size="15" text-anchor="middle" fill="#1a1a1a" >***</text>
<rect x="913.5" y="766.2" width="36.0" height="62.8" fill="#000000" />
<line x1="931.5" y1="766.2" x2="931.5" y2="761.4" stroke="#000000" stroke-width="2.4" stroke-linecap="butt"/>
<line x1="922.0" y1="761.4" x2="941.0" y2="761.4" stroke="#000000" stroke-width="2.4" stroke-linecap="butt"/>
<text x="931.5" y="763.5" font-family="'Liberation Sans', Arial, sans-serif" font-size="15" text-anchor="middle" fill="#1a1a1a" >***</text>
<rect x="801.0" y="543.7" width="42.0" height="17.1" fill="#d3d3d3" />
<text x="852.2" y="558.0" font-family="'Liberation Serif', 'Times New Roman', serif" font-size="19" text-anchor="start" fill="#1a1a1a" >sh-NC</text>
<rect x="801.0" y="567.3" width="42.0" height="16.3" fill="#828282" />
<text x="852.2" y="580.8" font-family="'Liberation Serif', 'Times New Roman', serif" font-size="19" text-anchor="start" fill="#1a1a1a" >PKP3-sh1</text>
<rect x="801.0" y="591.5" width="42.0" height="16.6" fill="#000000" />
<text x="852.2" y="605.3" font-family="'Liberation Serif', 'Times New Roman', serif" font-size="19" text-anchor="start" fill="#1a1a1a" >PKP3-sh2</text>
<text x="889.7" y="871.0" font-family="'Liberation Sans', Arial, sans-serif" font-size="23.6" text-anchor="middle" fill="#111" >ASPC-1</text>
<text transform="translate(713.8,717.8) rotate(-90)" font-family="'Liberation Sans', Arial, sans-serif" font-size="24" text-anchor="middle" fill="#000">Migration ratio(%)</text>
<line x1="1781.3" y1="584.4" x2="1781.3" y2="836.3" stroke="#000" stroke-width="4.2" stroke-linecap="butt"/>
<line x1="1768.8" y1="833.4" x2="1979.2" y2="833.4" stroke="#000" stroke-width="4.2" stroke-linecap="butt"/>
<circle cx="1979.2" cy="833.4" r="2.1" fill="#000"/>
<line x1="1768.8" y1="587.8" x2="1781.3" y2="587.8" stroke="#000" stroke-width="3.9899999999999998" stroke-linecap="butt"/>
<text x="1759.0" y="595.1" font-family="'Liberation Sans', Arial, sans-serif" font-size="21.2" text-anchor="end" fill="#222" >80</text>
<line x1="1768.8" y1="648.8" x2="1781.3" y2="648.8" stroke="#000" stroke-width="3.9899999999999998" stroke-linecap="butt"/>
<text x="1759.0" y="656.1" font-family="'Liberation Sans', Arial, sans-serif" font-size="21.2" text-anchor="end" fill="#222" >60</text>
<line x1="1768.8" y1="710.6" x2="1781.3" y2="710.6" stroke="#000" stroke-width="3.9899999999999998" stroke-linecap="butt"/>
<text x="1759.0" y="717.9" font-family="'Liberation Sans', Arial, sans-serif" font-size="21.2" text-anchor="end" fill="#222" >40</text>
<line x1="1768.8" y1="771.9" x2="1781.3" y2="771.9" stroke="#000" stroke-width="3.9899999999999998" stroke-linecap="butt"/>
<text x="1759.0" y="779.2" font-family="'Liberation Sans', Arial, sans-serif" font-size="21.2" text-anchor="end" fill="#222" >20</text>
<line x1="1768.8" y1="833.4" x2="1781.3" y2="833.4" stroke="#000" stroke-width="3.9899999999999998" stroke-linecap="butt"/>
<text x="1759.0" y="840.7" font-family="'Liberation Sans', Arial, sans-serif" font-size="21.2" text-anchor="end" fill="#222" >0</text>
<rect x="1801.0" y="606.0" width="38.9" height="225.0" fill="#d3d3d3" />
<line x1="1820.5" y1="606.0" x2="1820.5" y2="599.7" stroke="#d3d3d3" stroke-width="2.4" stroke-linecap="butt"/>
<line x1="1810.5" y1="599.7" x2="1830.5" y2="599.7" stroke="#d3d3d3" stroke-width="2.4" stroke-linecap="butt"/>
<rect x="1860.1" y="683.0" width="37.6" height="148.0" fill="#828282" />
<line x1="1878.9" y1="683.0" x2="1878.9" y2="677.0" stroke="#828282" stroke-width="2.4" stroke-linecap="butt"/>
<line x1="1869.4" y1="677.0" x2="1888.4" y2="677.0" stroke="#828282" stroke-width="2.4" stroke-linecap="butt"/>
<text x="1878.9" y="680.3" font-family="'Liberation Sans', Arial, sans-serif" font-size="15" text-anchor="middle" fill="#1a1a1a" >***</text>
<rect x="1917.4" y="722.5" width="38.7" height="108.5" fill="#000000" />
<line x1="1936.8" y1="722.5" x2="1936.8" y2="715.5" stroke="#000000" stroke-width="2.4" stroke-linecap="butt"/>
<line x1="1927.2" y1="715.5" x2="1946.2" y2="715.5" stroke="#000000" stroke-width="2.4" stroke-linecap="butt"/>
<text x="1936.8" y="719.1" font-family="'Liberation Sans', Arial, sans-serif" font-size="15" text-anchor="middle" fill="#1a1a1a" >***</text>
<rect x="1858.0" y="542.4" width="42.4" height="17.0" fill="#d3d3d3" />
<text x="1909.3" y="556.6" font-family="'Liberation Serif', 'Times New Roman', serif" font-size="19" text-anchor="start" fill="#1a1a1a" >sh-NC</text>
<rect x="1858.0" y="565.5" width="42.4" height="17.1" fill="#828282" />
<text x="1909.3" y="579.8" font-family="'Liberation Serif', 'Times New Roman', serif" font-size="19" text-anchor="start" fill="#1a1a1a" >PKP3-sh1</text>
<rect x="1858.0" y="590.2" width="42.4" height="16.6" fill="#000000" />
<text x="1909.3" y="604.0" font-family="'Liberation Serif', 'Times New Roman', serif" font-size="19" text-anchor="start" fill="#1a1a1a" >PKP3-sh2</text>
<text x="1882.2" y="871.0" font-family="'Liberation Sans', Arial, sans-serif" font-size="23.6" text-anchor="middle" fill="#111" >SW1990</text>
<text transform="translate(1717.8,717.9) rotate(-90)" font-family="'Liberation Sans', Arial, sans-serif" font-size="24" text-anchor="middle" fill="#000">Migration ratio(%)</text>
<line x1="784.2" y1="1034.6" x2="784.2" y2="1313.7" stroke="#000" stroke-width="4.2" stroke-linecap="butt"/>
<line x1="771.7" y1="1310.8" x2="1040.5" y2="1310.8" stroke="#000" stroke-width="4.2" stroke-linecap="butt"/>
<circle cx="1040.5" cy="1310.8" r="2.1" fill="#000"/>
<line x1="771.7" y1="1037.3" x2="784.2" y2="1037.3" stroke="#000" stroke-width="3.9899999999999998" stroke-linecap="butt"/>
<text x="767.8" y="1044.4" font-family="'Liberation Sans', Arial, sans-serif" font-size="20.7" text-anchor="end" fill="#222" >1500</text>
<line x1="771.7" y1="1128.3" x2="784.2" y2="1128.3" stroke="#000" stroke-width="3.9899999999999998" stroke-linecap="butt"/>
<text x="767.8" y="1135.4" font-family="'Liberation Sans', Arial, sans-serif" font-size="20.7" text-anchor="end" fill="#222" >1000</text>
<line x1="771.7" y1="1219.0" x2="784.2" y2="1219.0" stroke="#000" stroke-width="3.9899999999999998" stroke-linecap="butt"/>
<text x="767.8" y="1226.1" font-family="'Liberation Sans', Arial, sans-serif" font-size="20.7" text-anchor="end" fill="#222" >500</text>
<line x1="771.7" y1="1310.8" x2="784.2" y2="1310.8" stroke="#000" stroke-width="3.9899999999999998" stroke-linecap="butt"/>
<text x="767.8" y="1317.9" font-family="'Liberation Sans', Arial, sans-serif" font-size="20.7" text-anchor="end" fill="#222" >0</text>
<rect x="796.7" y="1112.9" width="25.1" height="195.6" fill="#d3d3d3" />
<line x1="809.2" y1="1112.9" x2="809.2" y2="1105.6" stroke="#d3d3d3" stroke-width="2.4" stroke-linecap="butt"/>
<line x1="803.2" y1="1105.6" x2="815.2" y2="1105.6" stroke="#d3d3d3" stroke-width="2.4" stroke-linecap="butt"/>
<rect x="834.3" y="1233.3" width="24.3" height="75.2" fill="#6a6a6a" />
<line x1="846.5" y1="1233.3" x2="846.5" y2="1231.9" stroke="#6a6a6a" stroke-width="2.8" stroke-linecap="butt"/>
<line x1="840.1" y1="1231.9" x2="852.8" y2="1231.9" stroke="#6a6a6a" stroke-width="2.8" stroke-linecap="butt"/>
<text x="847.6" y="1230.4" font-family="'Liberation Sans', Arial, sans-serif" font-size="15" text-anchor="middle" fill="#1a1a1a" letter-spacing="2.2">***</text>
<rect x="871.1" y="1249.0" width="23.8" height="59.5" fill="#000000" />
<line x1="883.0" y1="1249.0" x2="883.0" y2="1247.6" stroke="#000000" stroke-width="2.8" stroke-linecap="butt"/>
<line x1="876.5" y1="1247.6" x2="889.5" y2="1247.6" stroke="#000000" stroke-width="2.8" stroke-linecap="butt"/>
<text x="884.1" y="1247.1" font-family="'Liberation Sans', Arial, sans-serif" font-size="15" text-anchor="middle" fill="#1a1a1a" letter-spacing="2.2">***</text>
<rect x="927.1" y="1162.0" width="23.8" height="146.5" fill="#d3d3d3" />
<line x1="939.0" y1="1162.0" x2="939.0" y2="1160.0" stroke="#d3d3d3" stroke-width="2.4" stroke-linecap="butt"/>
<line x1="933.0" y1="1160.0" x2="945.0" y2="1160.0" stroke="#d3d3d3" stroke-width="2.4" stroke-linecap="butt"/>
<rect x="963.2" y="1237.3" width="24.7" height="71.2" fill="#828282" />
<line x1="975.5" y1="1237.3" x2="975.5" y2="1235.9" stroke="#828282" stroke-width="2.8" stroke-linecap="butt"/>
<line x1="969.2" y1="1235.9" x2="981.9" y2="1235.9" stroke="#828282" stroke-width="2.8" stroke-linecap="butt"/>
<text x="976.6" y="1237.5" font-family="'Liberation Sans', Arial, sans-serif" font-size="15" text-anchor="middle" fill="#1a1a1a" letter-spacing="2.2">***</text>
<rect x="1000.6" y="1248.4" width="24.2" height="60.1" fill="#000000" />
<line x1="1012.7" y1="1248.4" x2="1012.7" y2="1247.0" stroke="#000000" stroke-width="2.8" stroke-linecap="butt"/>
<line x1="1006.4" y1="1247.0" x2="1019.1" y2="1247.0" stroke="#000000" stroke-width="2.8" stroke-linecap="butt"/>
<text x="1013.8" y="1248.6" font-family="'Liberation Sans', Arial, sans-serif" font-size="15" text-anchor="middle" fill="#1a1a1a" letter-spacing="2.2">***</text>
<rect x="800.2" y="1003.5" width="38.6" height="18.9" fill="#d3d3d3" />
<text x="851.5" y="1019.8" font-family="'Liberation Serif', 'Times New Roman', serif" font-size="19.7" text-anchor="start" fill="#1a1a1a" >sh-NC</text>
<rect x="800.2" y="1031.3" width="38.6" height="18.1" fill="#828282" />
<text x="851.5" y="1046.8" font-family="'Liberation Serif', 'Times New Roman', serif" font-size="19.7" text-anchor="start" fill="#1a1a1a" >PKP3-sh1</text>
<rect x="800.2" y="1059.4" width="38.6" height="18.4" fill="#000000" />
<text x="851.5" y="1075.2" font-family="'Liberation Serif', 'Times New Roman', serif" font-size="19.7" text-anchor="start" fill="#1a1a1a" >PKP3-sh2</text>
<text x="849.5" y="1346.5" font-family="'Liberation Sans', Arial, sans-serif" font-size="23.6" text-anchor="middle" fill="#111" >ASPC-1</text>
<text x="978.2" y="1346.5" font-family="'Liberation Sans', Arial, sans-serif" font-size="23.6" text-anchor="middle" fill="#111" >SW1990</text>
<text transform="translate(714.6,1171.7) rotate(-90)" font-family="'Liberation Sans', Arial, sans-serif" font-size="24" text-anchor="middle" fill="#000">Number of migrated cells</text>
<line x1="1777.8" y1="1045.4" x2="1777.8" y2="1311.3" stroke="#000" stroke-width="4.2" stroke-linecap="butt"/>
<line x1="1765.3" y1="1308.4" x2="2051.9" y2="1308.4" stroke="#000" stroke-width="4.2" stroke-linecap="butt"/>
<circle cx="2051.9" cy="1308.4" r="2.1" fill="#000"/>
<line x1="1765.3" y1="1048.9" x2="1777.8" y2="1048.9" stroke="#000" stroke-width="3.9899999999999998" stroke-linecap="butt"/>
<text x="1760.2" y="1056.0" font-family="'Liberation Sans', Arial, sans-serif" font-size="20.7" text-anchor="end" fill="#222" >400</text>
<line x1="1765.3" y1="1113.7" x2="1777.8" y2="1113.7" stroke="#000" stroke-width="3.9899999999999998" stroke-linecap="butt"/>
<text x="1760.2" y="1120.8" font-family="'Liberation Sans', Arial, sans-serif" font-size="20.7" text-anchor="end" fill="#222" >300</text>
<line x1="1765.3" y1="1178.2" x2="1777.8" y2="1178.2" stroke="#000" stroke-width="3.9899999999999998" stroke-linecap="butt"/>
<text x="1760.2" y="1185.3" font-family="'Liberation Sans', Arial, sans-serif" font-size="20.7" text-anchor="end" fill="#222" >200</text>
<line x1="1765.3" y1="1243.0" x2="1777.8" y2="1243.0" stroke="#000" stroke-width="3.9899999999999998" stroke-linecap="butt"/>
<text x="1760.2" y="1250.1" font-family="'Liberation Sans', Arial, sans-serif" font-size="20.7" text-anchor="end" fill="#222" >100</text>
<line x1="1765.3" y1="1308.4" x2="1777.8" y2="1308.4" stroke="#000" stroke-width="3.9899999999999998" stroke-linecap="butt"/>
<text x="1760.2" y="1315.5" font-family="'Liberation Sans', Arial, sans-serif" font-size="20.7" text-anchor="end" fill="#222" >0</text>
<rect x="1792.0" y="1094.8" width="25.5" height="211.7" fill="#d3d3d3" />
<line x1="1804.8" y1="1094.8" x2="1804.8" y2="1087.8" stroke="#d3d3d3" stroke-width="2.4" stroke-linecap="butt"/>
<line x1="1798.2" y1="1087.8" x2="1811.2" y2="1087.8" stroke="#d3d3d3" stroke-width="2.4" stroke-linecap="butt"/>
<rect x="1831.2" y="1275.7" width="25.4" height="30.8" fill="#828282" />
<line x1="1843.9" y1="1275.7" x2="1843.9" y2="1272.2" stroke="#828282" stroke-width="2.4" stroke-linecap="butt"/>
<line x1="1837.4" y1="1272.2" x2="1850.4" y2="1272.2" stroke="#828282" stroke-width="2.4" stroke-linecap="butt"/>
<text x="1843.9" y="1274.3" font-family="'Liberation Sans', Arial, sans-serif" font-size="15" text-anchor="middle" fill="#1a1a1a" >***</text>
<rect x="1871.0" y="1278.8" width="25.6" height="27.7" fill="#000000" />
<line x1="1883.8" y1="1278.8" x2="1883.8" y2="1275.3" stroke="#000000" stroke-width="2.4" stroke-linecap="butt"/>
<line x1="1877.3" y1="1275.3" x2="1890.3" y2="1275.3" stroke="#000000" stroke-width="2.4" stroke-linecap="butt"/>
<text x="1883.8" y="1278.5" font-family="'Liberation Sans', Arial, sans-serif" font-size="15" text-anchor="middle" fill="#1a1a1a" >***</text>
<rect x="1929.8" y="1108.0" width="25.4" height="198.5" fill="#d3d3d3" />
<line x1="1942.5" y1="1108.0" x2="1942.5" y2="1100.7" stroke="#d3d3d3" stroke-width="2.4" stroke-linecap="butt"/>
<line x1="1936.0" y1="1100.7" x2="1949.0" y2="1100.7" stroke="#d3d3d3" stroke-width="2.4" stroke-linecap="butt"/>
<rect x="1969.0" y="1278.3" width="25.6" height="28.2" fill="#828282" />
<line x1="1981.8" y1="1278.3" x2="1981.8" y2="1275.3" stroke="#828282" stroke-width="2.4" stroke-linecap="butt"/>
<line x1="1975.3" y1="1275.3" x2="1988.3" y2="1275.3" stroke="#828282" stroke-width="2.4" stroke-linecap="butt"/>
<text x="1981.8" y="1278.5" font-family="'Liberation Sans', Arial, sans-serif" font-size="15" text-anchor="middle" fill="#1a1a1a" >***</text>
<rect x="2008.1" y="1279.9" width="25.7" height="26.6" fill="#000000" />
<line x1="2020.9" y1="1279.9" x2="2020.9" y2="1277.2" stroke="#000000" stroke-width="2.0" stroke-linecap="butt"/>
<line x1="2013.9" y1="1277.2" x2="2027.9" y2="1277.2" stroke="#000000" stroke-width="2.0" stroke-linecap="butt"/>
<text x="2020.9" y="1281.2" font-family="'Liberation Sans', Arial, sans-serif" font-size="15" text-anchor="middle" fill="#1a1a1a" >***</text>
<rect x="1793.4" y="1005.4" width="38.9" height="18.4" fill="#d3d3d3" />
<text x="1845.3" y="1021.2" font-family="'Liberation Serif', 'Times New Roman', serif" font-size="19.7" text-anchor="start" fill="#1a1a1a" >sh-NC</text>
<rect x="1793.4" y="1032.4" width="38.9" height="18.4" fill="#828282" />
<text x="1845.3" y="1048.2" font-family="'Liberation Serif', 'Times New Roman', serif" font-size="19.7" text-anchor="start" fill="#1a1a1a" >PKP3-sh1</text>
<rect x="1793.4" y="1060.2" width="38.9" height="18.4" fill="#000000" />
<text x="1845.3" y="1076.0" font-family="'Liberation Serif', 'Times New Roman', serif" font-size="19.7" text-anchor="start" fill="#1a1a1a" >PKP3-sh2</text>
<text x="1857.5" y="1346.5" font-family="'Liberation Sans', Arial, sans-serif" font-size="23.6" text-anchor="middle" fill="#111" >ASPC-1</text>
<text x="1986.0" y="1346.5" font-family="'Liberation Sans', Arial, sans-serif" font-size="23.6" text-anchor="middle" fill="#111" >SW1990</text>
<text transform="translate(1717.8,1177.7) rotate(-90)" font-family="'Liberation Sans', Arial, sans-serif" font-size="24" text-anchor="middle" fill="#000">Number of&#160; invasion cells</text>
<text x="220.6" y="586.1" font-family="'Liberation Sans', Arial, sans-serif" font-size="27" text-anchor="middle" fill="#111" >sh-NC</text>
<text x="401.8" y="586.1" font-family="'Liberation Sans', Arial, sans-serif" font-size="27" text-anchor="middle" fill="#111" >PKP3-sh1</text>
<text x="575.5" y="586.1" font-family="'Liberation Sans', Arial, sans-serif" font-size="27" text-anchor="middle" fill="#111" >PKP3-sh2</text>
<text x="1217.0" y="586.2" font-family="'Liberation Sans', Arial, sans-serif" font-size="27" text-anchor="middle" fill="#111" >sh-NC</text>
<text x="1397.2" y="586.2" font-family="'Liberation Sans', Arial, sans-serif" font-size="27" text-anchor="middle" fill="#111" >PKP3-sh1</text>
<text x="1571.7" y="586.2" font-family="'Liberation Sans', Arial, sans-serif" font-size="27" text-anchor="middle" fill="#111" >PKP3-sh2</text>
<text x="221.3" y="977.0" font-family="'Liberation Sans', Arial, sans-serif" font-size="27" text-anchor="middle" fill="#111" >sh-NC</text>
<text x="401.9" y="977.0" font-family="'Liberation Sans', Arial, sans-serif" font-size="27" text-anchor="middle" fill="#111" >PKP3-sh1</text>
<text x="582.6" y="977.0" font-family="'Liberation Sans', Arial, sans-serif" font-size="27" text-anchor="middle" fill="#111" >PKP3-sh2</text>
<text x="1218.3" y="979.3" font-family="'Liberation Sans', Arial, sans-serif" font-size="27" text-anchor="middle" fill="#111" >sh-NC</text>
<text x="1398.9" y="979.3" font-family="'Liberation Sans', Arial, sans-serif" font-size="27" text-anchor="middle" fill="#111" >PKP3-sh1</text>
<text x="1579.5" y="979.3" font-family="'Liberation Sans', Arial, sans-serif" font-size="27" text-anchor="middle" fill="#111" >PKP3-sh2</text>
<text transform="translate(114.0,727.9) rotate(-90)" font-family="'Liberation Sans', Arial, sans-serif" font-size="27" text-anchor="middle" fill="#000">ASPC-1</text>
<text transform="translate(1116.5,730.5) rotate(-90)" font-family="'Liberation Sans', Arial, sans-serif" font-size="27" text-anchor="middle" fill="#000">SW1990</text>
<text transform="translate(113.8,1077.6) rotate(-90)" font-family="'Liberation Sans', Arial, sans-serif" font-size="26.5" text-anchor="middle" fill="#000">ASPC-1</text>
<text transform="translate(113.8,1270.5) rotate(-90)" font-family="'Liberation Sans', Arial, sans-serif" font-size="27" text-anchor="middle" fill="#000">SW1990</text>
<text transform="translate(1117.0,1078.4) rotate(-90)" font-family="'Liberation Sans', Arial, sans-serif" font-size="26.5" text-anchor="middle" fill="#000">ASPC-1</text>
<text transform="translate(1117.0,1270.5) rotate(-90)" font-family="'Liberation Sans', Arial, sans-serif" font-size="27" text-anchor="middle" fill="#000">SW1990</text>
<linearGradient id="d1g" x1="0" y1="0" x2="0" y2="1"><stop offset="0" stop-color="#2e2440" stop-opacity="0.35"/><stop offset="0.5" stop-color="#453852" stop-opacity="0"/><stop offset="1" stop-color="#6a5a80" stop-opacity="0.45"/></linearGradient>
<rect x="128.3" y="603.4" width="173.7" height="127.0" fill="#000" filter="url(#sp1)"/>
<rect x="128.3" y="603.4" width="173.7" height="127.0" fill="#000" filter="url(#bl2)"/>
<polygon points="171.0,603.4 258.0,603.4 258.0,730.4 171.0,730.4" filter="url(#sp3)"/>
<polygon points="171.0,603.4 258.0,603.4 258.0,730.4 171.0,730.4" fill="url(#d1g)"/>
<line x1="171" y1="603.4" x2="171" y2="730.4" stroke="#a3a39b" stroke-width="1.6"/>
<line x1="257.9" y1="603.4" x2="257.9" y2="730.4" stroke="#a3a39b" stroke-width="1.6"/>
<rect x="306.1" y="601.8" width="173.4" height="128.0" fill="#000" filter="url(#sp4)"/>
<rect x="306.1" y="601.8" width="173.4" height="128.0" fill="#000" filter="url(#bl5)"/>
<polygon points="349.3,601.8 430.4,601.8 430.4,729.8 349.3,729.8" filter="url(#sp6)"/>
<line x1="349.3" y1="601.8" x2="349.3" y2="729.8" stroke="#a3a39b" stroke-width="1.6"/>
<line x1="430.4" y1="601.8" x2="430.4" y2="729.8" stroke="#a3a39b" stroke-width="1.6"/>
<rect x="481.7" y="601.8" width="173.4" height="128.0" fill="#000" filter="url(#sp7)"/>
<rect x="481.7" y="601.8" width="173.4" height="128.0" fill="#000" filter="url(#bl8)"/>
<polygon points="520.0,601.8 615.4,601.8 615.4,729.8 520.0,729.8" filter="url(#sp9)"/>
<line x1="520" y1="601.8" x2="520" y2="729.8" stroke="#a3a39b" stroke-width="1.6"/>
<line x1="615.4" y1="601.8" x2="615.4" y2="729.8" stroke="#a3a39b" stroke-width="1.6"/>
<rect x="127.8" y="737.0" width="172.9" height="127.0" fill="#000" filter="url(#sp10)"/>
<rect x="127.8" y="737.0" width="172.9" height="127.0" fill="#000" filter="url(#bl11)"/>
<polygon points="189.0,737.0 232.0,737.0 230.0,760.0 232.0,800.0 228.0,840.0 231.0,864.0 190.0,864.0 196.0,830.0 197.0,790.0 195.0,760.0" filter="url(#sp12)"/>
<line x1="197.2" y1="737" x2="197.2" y2="864" stroke="#a3a39b" stroke-width="1.6"/>
<line x1="231.4" y1="737" x2="231.4" y2="864" stroke="#a3a39b" stroke-width="1.6"/>
<rect x="303.5" y="734.6" width="173.4" height="127.8" fill="#000" filter="url(#sp13)"/>
<rect x="303.5" y="734.6" width="173.4" height="127.8" fill="#000" filter="url(#bl14)"/>
<polygon points="352.0,734.6 409.0,734.6 411.0,780.0 422.0,800.0 416.0,840.0 415.0,862.4 365.0,862.4 361.0,820.0 360.0,770.0 355.0,750.0" filter="url(#sp15)"/>
<line x1="361" y1="734.6" x2="361" y2="862.4" stroke="#a3a39b" stroke-width="1.6"/>
<line x1="414.7" y1="734.6" x2="414.7" y2="862.4" stroke="#a3a39b" stroke-width="1.6"/>
<rect x="481.1" y="733.6" width="173.1" height="127.6" fill="#000" filter="url(#sp16)"/>
<rect x="481.1" y="733.6" width="173.1" height="127.6" fill="#000" filter="url(#bl17)"/>
<polygon points="528.0,733.6 613.0,733.6 615.0,780.0 604.0,800.0 600.0,840.0 604.0,861.2 521.0,861.2 520.0,830.0 529.0,790.0" filter="url(#sp18)"/>
<line x1="528.8" y1="733.6" x2="528.8" y2="861.2" stroke="#a3a39b" stroke-width="1.6"/>
<line x1="604.7" y1="733.6" x2="604.7" y2="861.2" stroke="#a3a39b" stroke-width="1.6"/>
<rect x="1128.9" y="602.1" width="172.9" height="126.9" fill="#000" filter="url(#sp19)"/>
<rect x="1128.9" y="602.1" width="172.9" height="126.9" fill="#000" filter="url(#bl20)"/>
<polygon points="1174.3,602.1 1261.7,602.1 1261.7,729.0 1174.3,729.0" filter="url(#sp21)"/>
<line x1="1174.3" y1="602.1" x2="1174.3" y2="729" stroke="#a3a39b" stroke-width="1.6"/>
<line x1="1261.7" y1="602.1" x2="1261.7" y2="729" stroke="#a3a39b" stroke-width="1.6"/>
<linearGradient id="e2g" x1="0" y1="0" x2="0.6" y2="1"><stop offset="0" stop-color="#1b2a44" stop-opacity="0.6"/><stop offset="0.55" stop-color="#2a3f5c" stop-opacity="0"/><stop offset="1" stop-color="#7090b0" stop-opacity="0.5"/></linearGradient>
<rect x="1306.2" y="602.5" width="172.4" height="127.1" fill="#000" filter="url(#sp22)"/>
<rect x="1306.2" y="602.5" width="172.4" height="127.1" fill="#000" filter="url(#bl23)"/>
<polygon points="1346.9,602.5 1434.9,602.5 1434.9,729.6 1346.9,729.6" filter="url(#sp24)"/>
<polygon points="1346.9,602.5 1434.9,602.5 1434.9,729.6 1346.9,729.6" fill="url(#e2g)"/>
<line x1="1346.9" y1="602.5" x2="1346.9" y2="729.6" stroke="#a3a39b" stroke-width="1.6"/>
<line x1="1434.9" y1="602.5" x2="1434.9" y2="729.6" stroke="#a3a39b" stroke-width="1.6"/>
<rect x="1485.0" y="604.5" width="173.1" height="126.8" fill="#000" filter="url(#sp25)"/>
<rect x="1485.0" y="604.5" width="173.1" height="126.8" fill="#000" filter="url(#bl26)"/>
<polygon points="1527.7,604.5 1617.5,604.5 1617.5,731.3 1527.7,731.3" filter="url(#sp27)"/>
<line x1="1527.7" y1="604.5" x2="1527.7" y2="731.3" stroke="#a3a39b" stroke-width="1.6"/>
<line x1="1617.5" y1="604.5" x2="1617.5" y2="731.3" stroke="#a3a39b" stroke-width="1.6"/>
<rect x="1128.9" y="734.8" width="172.9" height="126.5" fill="#000" filter="url(#sp28)"/>
<rect x="1128.9" y="734.8" width="172.9" height="126.5" fill="#000" filter="url(#bl29)"/>
<polygon points="1208.0,734.8 1232.0,734.8 1232.0,861.3 1212.0,861.3 1208.0,800.0" filter="url(#sp30)"/>
<line x1="1208" y1="734.8" x2="1208" y2="861.3" stroke="#a3a39b" stroke-width="1.6"/>
<line x1="1232" y1="734.8" x2="1232" y2="861.3" stroke="#a3a39b" stroke-width="1.6"/>
<rect x="1307.5" y="734.8" width="172.5" height="126.5" fill="#000" filter="url(#sp31)"/>
<rect x="1307.5" y="734.8" width="172.5" height="126.5" fill="#000" filter="url(#bl32)"/>
<polygon points="1375.6,734.8 1420.3,734.8 1419.0,780.0 1412.0,790.0 1414.0,815.0 1420.3,861.3 1375.6,861.3" filter="url(#sp33)"/>
<line x1="1375.6" y1="734.8" x2="1375.6" y2="861.3" stroke="#a3a39b" stroke-width="1.6"/>
<line x1="1420.3" y1="734.8" x2="1420.3" y2="861.3" stroke="#a3a39b" stroke-width="1.6"/>
<rect x="1484.0" y="734.5" width="173.0" height="127.8" fill="#000" filter="url(#sp34)"/>
<rect x="1484.0" y="734.5" width="173.0" height="127.8" fill="#000" filter="url(#bl35)"/>
<polygon points="1557.0,734.5 1612.0,734.5 1612.0,862.3 1557.0,862.3" filter="url(#sp36)"/>
<line x1="1557" y1="734.5" x2="1557" y2="862.3" stroke="#a3a39b" stroke-width="1.6"/>
<line x1="1614.5" y1="734.5" x2="1614.5" y2="862.3" stroke="#a3a39b" stroke-width="1.6"/>
<linearGradient id="f3g" x1="0" y1="1" x2="1" y2="0"><stop offset="0" stop-color="#ecd8b8" stop-opacity="0.9"/><stop offset="0.6" stop-color="#fff" stop-opacity="0"/></linearGradient>
<rect x="127.5" y="997.9" width="173.8" height="157.1" fill="#fdfafd" />
<rect x="127.5" y="997.9" width="173.8" height="157.1" fill="#000" filter="url(#bl37)"/>
<rect x="311.3" y="998.3" width="174.7" height="155.3" fill="#fdfbfc" />
<rect x="311.3" y="998.3" width="174.7" height="155.3" fill="#000" filter="url(#bl38)"/>
<rect x="493.5" y="998.3" width="174.3" height="155.3" fill="#fbf7f5" />
<rect x="493.5" y="998.3" width="174.3" height="155.3" fill="url(#f3g)" />
<rect x="493.5" y="998.3" width="174.3" height="155.3" fill="#000" filter="url(#bl39)"/>
<rect x="131.5" y="1190.6" width="173.3" height="156.0" fill="#f0c2ec" />
<rect x="131.5" y="1190.6" width="173.3" height="156.0" fill="#000" filter="url(#bl40)"/>
<rect x="312.0" y="1189.6" width="174.0" height="155.3" fill="#d6d8f2" />
<rect x="312.0" y="1189.6" width="174.0" height="155.3" fill="#000" filter="url(#bl41)"/>
<rect x="491.8" y="1188.0" width="172.7" height="156.3" fill="#ccd4f2" />
<rect x="491.8" y="1188.0" width="172.7" height="156.3" fill="#000" filter="url(#bl42)"/>
<radialGradient id="g1g" cx="0.5" cy="0.5" r="0.6"><stop offset="0" stop-color="#ffffff" stop-opacity="0.75"/><stop offset="1" stop-color="#ffffff" stop-opacity="0"/></radialGradient>
<rect x="1130.9" y="998.3" width="174.6" height="155.3" fill="#d8daf0" />
<rect x="1130.9" y="998.3" width="174.6" height="155.3" fill="url(#g1g)" />
<rect x="1130.9" y="998.3" width="174.6" height="155.3" fill="#000" filter="url(#bl43)"/>
<rect x="1313.0" y="999.0" width="173.4" height="155.6" fill="#fcf9f7" />
<rect x="1313.0" y="999.0" width="173.4" height="155.6" fill="#000" filter="url(#bl44)"/>
<rect x="1494.5" y="999.0" width="173.3" height="156.3" fill="#fdf9fd" />
<rect x="1494.5" y="999.0" width="173.3" height="156.3" fill="#000" filter="url(#bl45)"/>
<rect x="1134.2" y="1184.0" width="173.3" height="156.0" fill="#dadaf4" />
<rect x="1134.2" y="1184.0" width="173.3" height="156.0" fill="#000" filter="url(#bl46)"/>
<clipPath id="g21c"><rect x="1134.2" y="1184" width="173.3" height="156"/></clipPath>
<g clip-path="url(#g21c)"><g filter="url(#clw)" fill="#8048d8" fill-opacity="0.82"><ellipse cx="1150" cy="1235" rx="11.7" ry="9.0"/><ellipse cx="1165" cy="1252" rx="14.4" ry="10.8"/><ellipse cx="1180" cy="1240" rx="9.0" ry="11.7"/><ellipse cx="1160" cy="1280" rx="12.6" ry="9.0"/><ellipse cx="1176" cy="1296" rx="10.8" ry="7.2"/><ellipse cx="1195" cy="1318" rx="9.9" ry="11.7"/><ellipse cx="1210" cy="1331" rx="10.8" ry="8.1"/><ellipse cx="1190" cy="1262" rx="6.3" ry="6.3"/><ellipse cx="1246" cy="1253" rx="9.9" ry="10.8"/><ellipse cx="1258" cy="1243" rx="7.2" ry="7.2"/><ellipse cx="1280" cy="1270" rx="7.2" ry="12.6"/><ellipse cx="1296" cy="1240" rx="9.9" ry="8.1"/><ellipse cx="1290" cy="1292" rx="9.0" ry="7.2"/><ellipse cx="1294" cy="1195" rx="7.2" ry="7.2"/><ellipse cx="1226" cy="1215" rx="7.2" ry="5.4"/><ellipse cx="1250" cy="1305" rx="5.4" ry="11.7"/><ellipse cx="1140" cy="1300" rx="5.4" ry="7.2"/><ellipse cx="1213" cy="1265" rx="5.4" ry="5.4"/></g></g>
<rect x="1314.0" y="1183.0" width="174.7" height="155.4" fill="#b4b8e4" />
<rect x="1314.0" y="1183.0" width="174.7" height="155.4" fill="#000" filter="url(#bl47)"/>
<rect x="1493.9" y="1181.4" width="173.9" height="155.3" fill="#e4e4f6" />
<rect x="1493.9" y="1181.4" width="173.9" height="155.3" fill="#000" filter="url(#bl48)"/></svg></body></html>
